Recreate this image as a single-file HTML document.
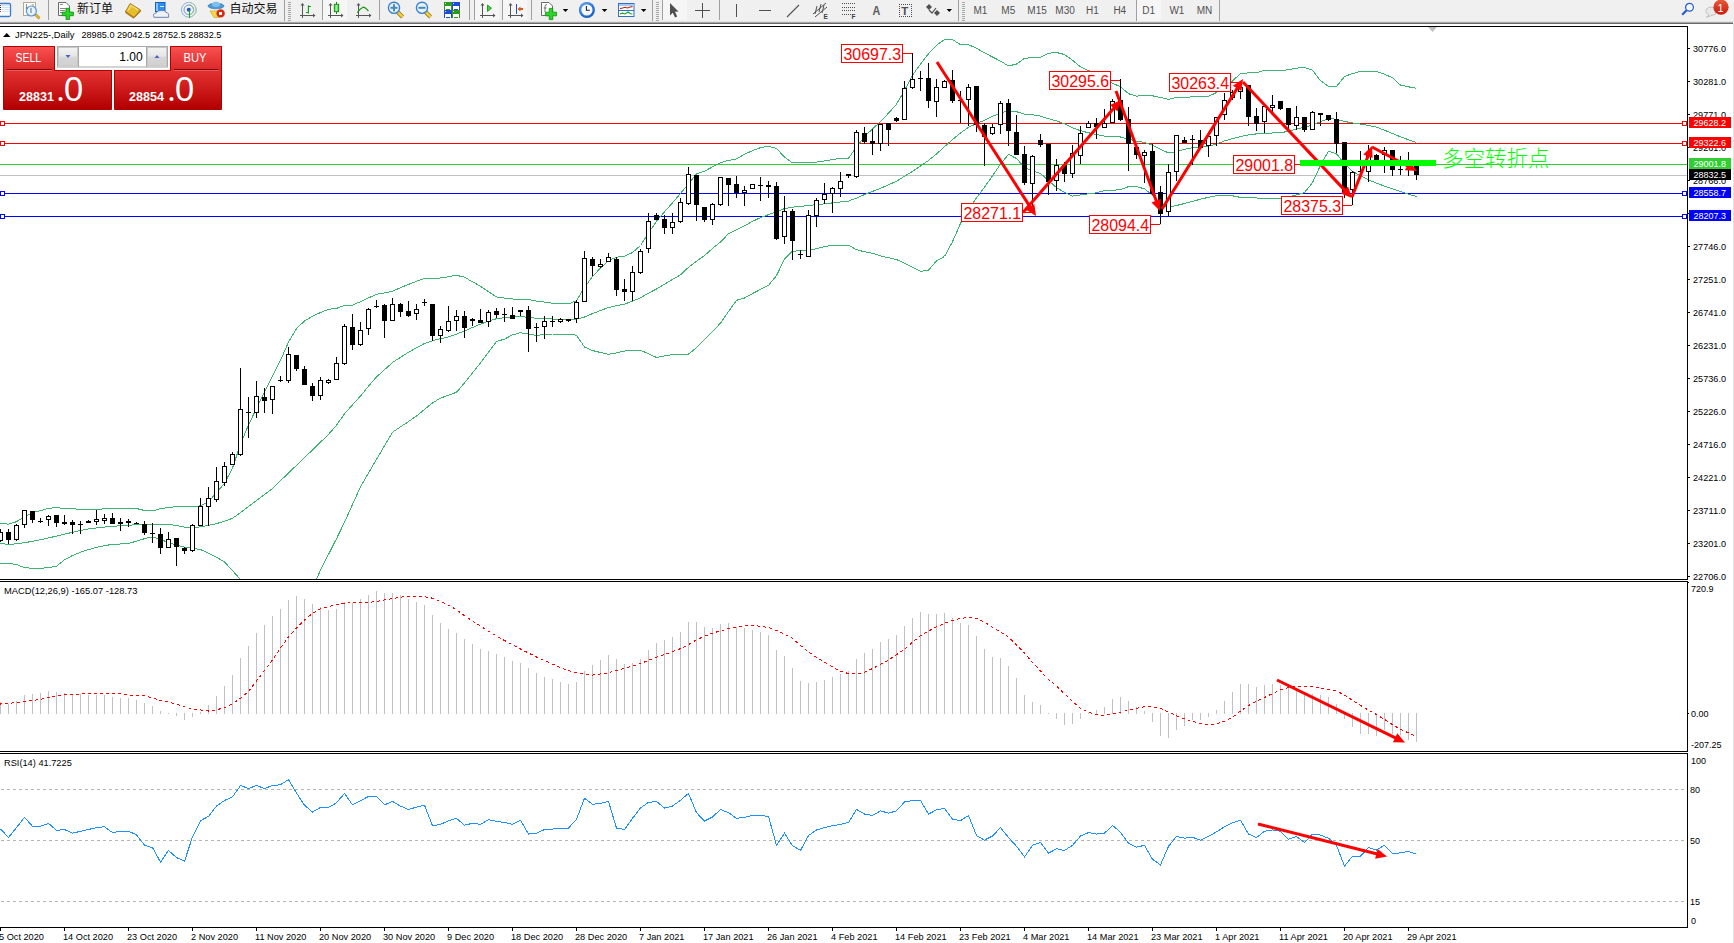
<!DOCTYPE html>
<html><head><meta charset="utf-8"><title>JPN225 Daily</title>
<style>
html,body{margin:0;padding:0;width:1734px;height:943px;overflow:hidden;background:#fff;}
svg{display:block;}
text{font-family:'Liberation Sans', 'Noto Sans CJK SC', sans-serif;}
</style></head><body>
<svg width="1734" height="943" viewBox="0 0 1734 943">
<rect x="0" y="24" width="1734" height="919" fill="#fff"/><rect x="1733" y="23" width="1" height="920" fill="#e2e2e2"/><rect x="0" y="26" width="1688" height="1" fill="#000"/><rect x="0" y="579" width="1688" height="1" fill="#000"/><rect x="1687" y="26" width="1" height="554" fill="#000"/><rect x="0" y="581" width="1688" height="1" fill="#000"/><rect x="0" y="751" width="1688" height="1" fill="#000"/><rect x="1687" y="581" width="1" height="171" fill="#000"/><rect x="0" y="753" width="1688" height="1" fill="#000"/><rect x="0" y="927" width="1688" height="1" fill="#000"/><rect x="1687" y="753" width="1" height="175" fill="#000"/><defs><clipPath id="cMain"><rect x="0" y="27" width="1687" height="552"/></clipPath><clipPath id="cMacd"><rect x="0" y="582" width="1687" height="169"/></clipPath><clipPath id="cRsi"><rect x="0" y="754" width="1687" height="173"/></clipPath></defs><g clip-path="url(#cMain)" shape-rendering="crispEdges"><rect x="0" y="123" width="1687" height="1" fill="#ff0000"/><rect x="1682.5" y="121.5" width="4" height="4" fill="#fff" stroke="#ff0000" stroke-width="1"/><rect x="0.5" y="121.5" width="4" height="4" fill="#fff" stroke="#ff0000" stroke-width="1"/><rect x="0" y="143" width="1687" height="1" fill="#ff0000"/><rect x="1682.5" y="141.5" width="4" height="4" fill="#fff" stroke="#ff0000" stroke-width="1"/><rect x="0.5" y="141.5" width="4" height="4" fill="#fff" stroke="#ff0000" stroke-width="1"/><rect x="0" y="164" width="1687" height="1" fill="#32cd32"/><rect x="0" y="175" width="1687" height="1" fill="#c0c0c0"/><rect x="0" y="193" width="1687" height="1" fill="#0000ff"/><rect x="1682.5" y="191.5" width="4" height="4" fill="#fff" stroke="#0000ff" stroke-width="1"/><rect x="0.5" y="191.5" width="4" height="4" fill="#fff" stroke="#0000ff" stroke-width="1"/><rect x="0" y="216" width="1687" height="1" fill="#0000ff"/><rect x="1682.5" y="214.5" width="4" height="4" fill="#fff" stroke="#0000ff" stroke-width="1"/><rect x="0.5" y="214.5" width="4" height="4" fill="#fff" stroke="#0000ff" stroke-width="1"/><polyline points="-1.0,523.0 0.5,523.0 8.5,524.2 16.5,521.7 24.5,516.6 32.5,512.8 40.5,510.6 48.5,508.4 56.5,507.6 64.5,508.6 72.5,508.6 80.5,509.6 88.5,509.5 96.5,509.4 104.5,508.8 112.5,508.2 120.5,508.3 128.5,508.4 136.5,508.5 144.5,510.5 152.5,511.0 160.5,508.6 168.5,507.5 176.5,506.6 184.5,506.7 192.5,506.9 200.5,505.8 208.5,501.6 216.5,492.8 224.5,483.4 232.5,468.0 240.5,444.1 248.5,425.0 256.5,408.2 264.5,392.4 272.5,376.4 280.5,360.4 288.5,342.1 296.5,328.6 304.5,320.9 312.5,316.2 320.5,312.5 328.5,309.3 336.5,308.4 344.5,305.3 352.5,305.1 360.5,301.7 368.5,297.9 376.5,294.3 384.5,293.0 392.5,291.2 400.5,287.7 408.5,284.4 416.5,281.3 424.5,278.5 432.5,278.5 440.5,278.0 448.5,276.7 456.5,275.3 464.5,277.2 472.5,281.8 480.5,286.3 488.5,291.6 496.5,297.0 504.5,298.1 512.5,299.0 520.5,299.3 528.5,299.5 536.5,301.1 544.5,302.1 552.5,303.2 560.5,303.8 568.5,303.8 576.5,300.8 584.5,287.5 592.5,276.6 600.5,268.0 608.5,260.6 616.5,257.3 624.5,256.1 632.5,252.6 640.5,245.5 648.5,233.0 656.5,221.3 664.5,211.8 672.5,202.8 680.5,193.5 688.5,183.7 696.5,174.0 704.5,171.2 712.5,166.9 720.5,162.7 728.5,160.4 736.5,158.9 744.5,154.2 752.5,150.7 760.5,147.6 768.5,146.2 776.5,148.5 784.5,157.1 792.5,163.0 800.5,162.4 808.5,162.2 816.5,162.1 824.5,161.0 832.5,159.5 840.5,158.3 848.5,158.3 856.5,146.9 864.5,136.6 872.5,128.9 880.5,121.5 888.5,113.2 896.5,104.2 904.5,90.5 912.5,75.2 920.5,64.1 928.5,53.7 936.5,45.2 944.5,39.5 952.5,39.6 960.5,44.7 968.5,44.6 976.5,48.3 984.5,52.8 992.5,57.0 1000.5,61.1 1008.5,65.9 1016.5,64.1 1024.5,58.4 1032.5,57.4 1040.5,57.3 1048.5,53.3 1056.5,52.5 1064.5,54.5 1072.5,60.2 1080.5,66.9 1088.5,70.5 1096.5,74.8 1104.5,79.2 1112.5,83.3 1120.5,86.7 1128.5,93.7 1136.5,96.1 1144.5,95.7 1152.5,95.8 1160.5,97.5 1168.5,99.3 1176.5,97.5 1184.5,97.2 1192.5,96.9 1200.5,96.7 1208.5,96.4 1216.5,92.5 1224.5,86.9 1232.5,80.9 1240.5,73.6 1248.5,72.9 1256.5,72.6 1264.5,70.4 1272.5,71.0 1280.5,70.9 1288.5,69.7 1296.5,68.1 1304.5,67.5 1312.5,70.1 1320.5,80.7 1328.5,86.3 1336.5,86.5 1344.5,76.5 1352.5,73.6 1360.5,71.4 1368.5,71.4 1376.5,71.4 1384.5,74.2 1392.5,77.8 1400.5,85.1 1408.5,86.8 1416.5,88.4" fill="none" stroke="#3cb371" stroke-width="1" /><polyline points="-1.0,543.3 0.5,543.3 8.5,544.6 16.5,543.8 24.5,542.6 32.5,541.4 40.5,539.7 48.5,537.9 56.5,536.1 64.5,534.2 72.5,532.3 80.5,530.5 88.5,529.0 96.5,528.0 104.5,527.1 112.5,526.3 120.5,525.8 128.5,525.3 136.5,524.7 144.5,524.4 152.5,524.4 160.5,524.4 168.5,524.4 176.5,525.4 184.5,527.1 192.5,527.5 200.5,526.9 208.5,525.3 216.5,523.6 224.5,521.2 232.5,518.3 240.5,512.6 248.5,506.6 256.5,500.6 264.5,494.6 272.5,488.4 280.5,480.7 288.5,473.0 296.5,465.3 304.5,457.6 312.5,449.9 320.5,442.2 328.5,434.4 336.5,425.2 344.5,413.9 352.5,404.8 360.5,396.0 368.5,386.2 376.5,376.9 384.5,369.7 392.5,362.5 400.5,357.3 408.5,352.2 416.5,347.8 424.5,343.5 432.5,340.7 440.5,338.7 448.5,337.0 456.5,334.1 464.5,331.1 472.5,327.5 480.5,324.1 488.5,321.1 496.5,318.7 504.5,317.7 512.5,316.9 520.5,316.4 528.5,317.5 536.5,318.3 544.5,318.7 552.5,319.0 560.5,319.2 568.5,319.2 576.5,319.2 584.5,317.0 592.5,313.6 600.5,310.5 608.5,307.5 616.5,305.7 624.5,304.1 632.5,301.2 640.5,297.8 648.5,293.1 656.5,289.0 664.5,284.1 672.5,279.5 680.5,274.8 688.5,267.3 696.5,261.2 704.5,255.5 712.5,248.5 720.5,242.0 728.5,233.7 736.5,229.6 744.5,225.7 752.5,221.4 760.5,217.6 768.5,214.6 776.5,211.6 784.5,208.6 792.5,207.2 800.5,206.4 808.5,205.5 816.5,204.7 824.5,203.8 832.5,202.9 840.5,202.0 848.5,201.1 856.5,198.1 864.5,194.6 872.5,191.4 880.5,188.3 888.5,184.8 896.5,181.2 904.5,176.3 912.5,171.3 920.5,166.0 928.5,160.5 936.5,153.9 944.5,146.7 952.5,139.6 960.5,132.9 968.5,127.4 976.5,123.5 984.5,120.3 992.5,116.4 1000.5,112.9 1008.5,111.0 1016.5,111.7 1024.5,114.2 1032.5,114.7 1040.5,116.1 1048.5,118.7 1056.5,120.9 1064.5,123.9 1072.5,127.9 1080.5,130.7 1088.5,132.8 1096.5,134.6 1104.5,136.2 1112.5,136.2 1120.5,137.0 1128.5,139.1 1136.5,141.3 1144.5,142.4 1152.5,145.2 1160.5,149.4 1168.5,152.9 1176.5,151.5 1184.5,149.4 1192.5,147.6 1200.5,146.9 1208.5,146.1 1216.5,144.2 1224.5,140.9 1232.5,138.7 1240.5,136.7 1248.5,134.8 1256.5,133.9 1264.5,133.3 1272.5,133.0 1280.5,132.8 1288.5,131.2 1296.5,129.2 1304.5,127.2 1312.5,124.9 1320.5,121.8 1328.5,118.4 1336.5,119.3 1344.5,121.4 1352.5,123.0 1360.5,124.1 1368.5,125.4 1376.5,127.2 1384.5,130.2 1392.5,133.5 1400.5,136.8 1408.5,139.7 1416.5,142.5" fill="none" stroke="#3cb371" stroke-width="1" /><polyline points="-1.0,563.3 0.5,563.3 8.5,563.3 16.5,564.6 24.5,567.5 32.5,568.4 40.5,568.4 48.5,567.6 56.5,566.3 64.5,559.8 72.5,555.5 80.5,552.3 88.5,549.6 96.5,547.4 104.5,545.6 112.5,544.4 120.5,544.0 128.5,543.6 136.5,541.1 144.5,538.7 152.5,536.8 160.5,539.6 168.5,542.4 176.5,545.1 184.5,547.1 192.5,548.3 200.5,549.5 208.5,553.1 216.5,557.1 224.5,562.0 232.5,570.5 240.5,579.5 248.5,595.7 256.5,611.9 264.5,620.0 272.5,620.0 280.5,620.0 288.5,620.0 296.5,620.0 304.5,609.4 312.5,588.3 320.5,570.1 328.5,554.4 336.5,538.7 344.5,522.3 352.5,504.5 360.5,486.8 368.5,473.0 376.5,459.4 384.5,445.8 392.5,432.2 400.5,426.9 408.5,421.6 416.5,416.0 424.5,409.4 432.5,402.9 440.5,398.1 448.5,395.2 456.5,392.3 464.5,382.9 472.5,372.9 480.5,362.9 488.5,352.3 496.5,341.5 504.5,339.1 512.5,334.9 520.5,332.7 528.5,334.0 536.5,335.4 544.5,334.5 552.5,334.0 560.5,334.0 568.5,334.1 576.5,335.2 584.5,347.0 592.5,350.5 600.5,352.5 608.5,354.3 616.5,352.9 624.5,351.1 632.5,350.2 640.5,350.2 648.5,353.8 656.5,357.5 664.5,355.9 672.5,354.5 680.5,354.3 688.5,354.1 696.5,347.7 704.5,339.7 712.5,331.5 720.5,323.1 728.5,311.6 736.5,300.3 744.5,298.0 752.5,293.6 760.5,289.4 768.5,285.4 776.5,275.5 784.5,259.2 792.5,251.1 800.5,250.9 808.5,250.6 816.5,248.6 824.5,246.6 832.5,245.1 840.5,245.1 848.5,245.2 856.5,249.7 864.5,251.8 872.5,253.2 880.5,256.0 888.5,257.7 896.5,259.5 904.5,263.3 912.5,267.3 920.5,271.3 928.5,270.2 936.5,260.9 944.5,256.5 952.5,241.8 960.5,223.4 968.5,209.5 976.5,197.8 984.5,187.2 992.5,175.9 1000.5,164.0 1008.5,154.4 1016.5,158.5 1024.5,167.4 1032.5,170.7 1040.5,173.4 1048.5,180.6 1056.5,187.6 1064.5,192.3 1072.5,196.1 1080.5,194.9 1088.5,193.8 1096.5,192.8 1104.5,190.6 1112.5,190.4 1120.5,189.6 1128.5,186.6 1136.5,186.7 1144.5,188.8 1152.5,195.2 1160.5,205.8 1168.5,206.9 1176.5,205.5 1184.5,203.5 1192.5,201.4 1200.5,199.2 1208.5,197.3 1216.5,195.8 1224.5,195.1 1232.5,195.8 1240.5,197.4 1248.5,197.7 1256.5,198.0 1264.5,198.2 1272.5,198.2 1280.5,198.2 1288.5,196.7 1296.5,194.9 1304.5,192.5 1312.5,182.7 1320.5,165.2 1328.5,151.2 1336.5,153.7 1344.5,163.9 1352.5,171.2 1360.5,175.9 1368.5,179.9 1376.5,183.1 1384.5,186.1 1392.5,188.9 1400.5,191.6 1408.5,194.1 1416.5,196.6" fill="none" stroke="#3cb371" stroke-width="1" /><rect x="0" y="529" width="1" height="13" fill="#000"/><rect x="-2" y="532" width="5" height="9" fill="#000"/><rect x="-1" y="533" width="3" height="7" fill="#fff"/><rect x="8" y="529" width="1" height="15" fill="#000"/><rect x="6" y="532" width="5" height="8" fill="#000"/><rect x="16" y="524" width="1" height="17" fill="#000"/><rect x="14" y="525" width="5" height="15" fill="#000"/><rect x="15" y="526" width="3" height="13" fill="#fff"/><rect x="24" y="510" width="1" height="18" fill="#000"/><rect x="22" y="510" width="5" height="15" fill="#000"/><rect x="23" y="511" width="3" height="13" fill="#fff"/><rect x="32" y="511" width="1" height="12" fill="#000"/><rect x="30" y="511" width="5" height="9" fill="#000"/><rect x="40" y="518" width="1" height="5" fill="#000"/><rect x="38" y="521" width="5" height="1" fill="#000"/><rect x="48" y="515" width="1" height="11" fill="#000"/><rect x="46" y="516" width="5" height="4" fill="#000"/><rect x="47" y="517" width="3" height="2" fill="#fff"/><rect x="56" y="515" width="1" height="12" fill="#000"/><rect x="54" y="515" width="5" height="8" fill="#000"/><rect x="64" y="515" width="1" height="10" fill="#000"/><rect x="62" y="522" width="5" height="2" fill="#000"/><rect x="72" y="520" width="1" height="14" fill="#000"/><rect x="70" y="522" width="5" height="3" fill="#000"/><rect x="80" y="521" width="1" height="13" fill="#000"/><rect x="78" y="524" width="5" height="1" fill="#000"/><rect x="88" y="520" width="1" height="3" fill="#000"/><rect x="86" y="521" width="5" height="2" fill="#000"/><rect x="96" y="510" width="1" height="15" fill="#000"/><rect x="94" y="519" width="5" height="3" fill="#000"/><rect x="95" y="520" width="3" height="1" fill="#fff"/><rect x="104" y="514" width="1" height="10" fill="#000"/><rect x="102" y="518" width="5" height="3" fill="#000"/><rect x="103" y="519" width="3" height="1" fill="#fff"/><rect x="112" y="513" width="1" height="11" fill="#000"/><rect x="110" y="518" width="5" height="6" fill="#000"/><rect x="120" y="518" width="1" height="13" fill="#000"/><rect x="118" y="522" width="5" height="2" fill="#000"/><rect x="128" y="519" width="1" height="8" fill="#000"/><rect x="126" y="521" width="5" height="2" fill="#000"/><rect x="136" y="522" width="1" height="2" fill="#000"/><rect x="134" y="523" width="5" height="1" fill="#000"/><rect x="144" y="521" width="1" height="14" fill="#000"/><rect x="142" y="524" width="5" height="9" fill="#000"/><rect x="152" y="523" width="1" height="20" fill="#000"/><rect x="150" y="533" width="5" height="1" fill="#000"/><rect x="160" y="528" width="1" height="26" fill="#000"/><rect x="158" y="534" width="5" height="14" fill="#000"/><rect x="168" y="532" width="1" height="16" fill="#000"/><rect x="166" y="539" width="5" height="9" fill="#000"/><rect x="167" y="540" width="3" height="7" fill="#fff"/><rect x="176" y="538" width="1" height="28" fill="#000"/><rect x="174" y="538" width="5" height="9" fill="#000"/><rect x="184" y="547" width="1" height="7" fill="#000"/><rect x="182" y="548" width="5" height="3" fill="#000"/><rect x="192" y="524" width="1" height="28" fill="#000"/><rect x="190" y="525" width="5" height="26" fill="#000"/><rect x="191" y="526" width="3" height="24" fill="#fff"/><rect x="200" y="498" width="1" height="28" fill="#000"/><rect x="198" y="506" width="5" height="20" fill="#000"/><rect x="199" y="507" width="3" height="18" fill="#fff"/><rect x="208" y="487" width="1" height="39" fill="#000"/><rect x="206" y="498" width="5" height="9" fill="#000"/><rect x="207" y="499" width="3" height="7" fill="#fff"/><rect x="216" y="467" width="1" height="35" fill="#000"/><rect x="214" y="481" width="5" height="19" fill="#000"/><rect x="215" y="482" width="3" height="17" fill="#fff"/><rect x="224" y="462" width="1" height="24" fill="#000"/><rect x="222" y="466" width="5" height="17" fill="#000"/><rect x="223" y="467" width="3" height="15" fill="#fff"/><rect x="232" y="452" width="1" height="13" fill="#000"/><rect x="230" y="454" width="5" height="11" fill="#000"/><rect x="231" y="455" width="3" height="9" fill="#fff"/><rect x="240" y="368" width="1" height="88" fill="#000"/><rect x="238" y="409" width="5" height="46" fill="#000"/><rect x="239" y="410" width="3" height="44" fill="#fff"/><rect x="248" y="397" width="1" height="41" fill="#000"/><rect x="246" y="412" width="5" height="1" fill="#000"/><rect x="256" y="381" width="1" height="37" fill="#000"/><rect x="254" y="396" width="5" height="17" fill="#000"/><rect x="255" y="397" width="3" height="15" fill="#fff"/><rect x="264" y="388" width="1" height="25" fill="#000"/><rect x="262" y="397" width="5" height="4" fill="#000"/><rect x="272" y="386" width="1" height="28" fill="#000"/><rect x="270" y="386" width="5" height="14" fill="#000"/><rect x="271" y="387" width="3" height="12" fill="#fff"/><rect x="280" y="376" width="1" height="6" fill="#000"/><rect x="278" y="380" width="5" height="1" fill="#000"/><rect x="288" y="347" width="1" height="36" fill="#000"/><rect x="286" y="354" width="5" height="27" fill="#000"/><rect x="287" y="355" width="3" height="25" fill="#fff"/><rect x="296" y="355" width="1" height="16" fill="#000"/><rect x="294" y="355" width="5" height="14" fill="#000"/><rect x="304" y="366" width="1" height="19" fill="#000"/><rect x="302" y="369" width="5" height="16" fill="#000"/><rect x="312" y="383" width="1" height="18" fill="#000"/><rect x="310" y="386" width="5" height="10" fill="#000"/><rect x="320" y="377" width="1" height="23" fill="#000"/><rect x="318" y="380" width="5" height="16" fill="#000"/><rect x="319" y="381" width="3" height="14" fill="#fff"/><rect x="328" y="379" width="1" height="5" fill="#000"/><rect x="326" y="380" width="5" height="3" fill="#000"/><rect x="327" y="381" width="3" height="1" fill="#fff"/><rect x="336" y="357" width="1" height="23" fill="#000"/><rect x="334" y="363" width="5" height="17" fill="#000"/><rect x="335" y="364" width="3" height="15" fill="#fff"/><rect x="344" y="324" width="1" height="41" fill="#000"/><rect x="342" y="326" width="5" height="38" fill="#000"/><rect x="343" y="327" width="3" height="36" fill="#fff"/><rect x="352" y="314" width="1" height="36" fill="#000"/><rect x="350" y="327" width="5" height="18" fill="#000"/><rect x="360" y="322" width="1" height="24" fill="#000"/><rect x="358" y="330" width="5" height="15" fill="#000"/><rect x="359" y="331" width="3" height="13" fill="#fff"/><rect x="368" y="308" width="1" height="27" fill="#000"/><rect x="366" y="309" width="5" height="20" fill="#000"/><rect x="367" y="310" width="3" height="18" fill="#fff"/><rect x="376" y="300" width="1" height="8" fill="#000"/><rect x="374" y="306" width="5" height="1" fill="#000"/><rect x="384" y="304" width="1" height="34" fill="#000"/><rect x="382" y="305" width="5" height="16" fill="#000"/><rect x="392" y="298" width="1" height="23" fill="#000"/><rect x="390" y="304" width="5" height="17" fill="#000"/><rect x="391" y="305" width="3" height="15" fill="#fff"/><rect x="400" y="303" width="1" height="14" fill="#000"/><rect x="398" y="304" width="5" height="8" fill="#000"/><rect x="408" y="301" width="1" height="16" fill="#000"/><rect x="406" y="311" width="5" height="5" fill="#000"/><rect x="416" y="304" width="1" height="16" fill="#000"/><rect x="414" y="309" width="5" height="5" fill="#000"/><rect x="415" y="310" width="3" height="3" fill="#fff"/><rect x="424" y="299" width="1" height="7" fill="#000"/><rect x="422" y="302" width="5" height="1" fill="#000"/><rect x="432" y="304" width="1" height="37" fill="#000"/><rect x="430" y="304" width="5" height="32" fill="#000"/><rect x="440" y="326" width="1" height="17" fill="#000"/><rect x="438" y="329" width="5" height="7" fill="#000"/><rect x="439" y="330" width="3" height="5" fill="#fff"/><rect x="448" y="306" width="1" height="26" fill="#000"/><rect x="446" y="321" width="5" height="10" fill="#000"/><rect x="447" y="322" width="3" height="8" fill="#fff"/><rect x="456" y="310" width="1" height="21" fill="#000"/><rect x="454" y="316" width="5" height="5" fill="#000"/><rect x="455" y="317" width="3" height="3" fill="#fff"/><rect x="464" y="311" width="1" height="27" fill="#000"/><rect x="462" y="316" width="5" height="12" fill="#000"/><rect x="472" y="318" width="1" height="8" fill="#000"/><rect x="470" y="319" width="5" height="2" fill="#000"/><rect x="480" y="309" width="1" height="14" fill="#000"/><rect x="478" y="320" width="5" height="3" fill="#000"/><rect x="488" y="310" width="1" height="17" fill="#000"/><rect x="486" y="312" width="5" height="10" fill="#000"/><rect x="487" y="313" width="3" height="8" fill="#fff"/><rect x="496" y="308" width="1" height="10" fill="#000"/><rect x="494" y="311" width="5" height="4" fill="#000"/><rect x="504" y="308" width="1" height="14" fill="#000"/><rect x="502" y="314" width="5" height="1" fill="#000"/><rect x="512" y="307" width="1" height="12" fill="#000"/><rect x="510" y="315" width="5" height="4" fill="#000"/><rect x="520" y="310" width="1" height="6" fill="#000"/><rect x="518" y="310" width="5" height="2" fill="#000"/><rect x="528" y="306" width="1" height="46" fill="#000"/><rect x="526" y="310" width="5" height="19" fill="#000"/><rect x="536" y="323" width="1" height="19" fill="#000"/><rect x="534" y="327" width="5" height="1" fill="#000"/><rect x="544" y="316" width="1" height="23" fill="#000"/><rect x="542" y="321" width="5" height="6" fill="#000"/><rect x="543" y="322" width="3" height="4" fill="#fff"/><rect x="552" y="316" width="1" height="11" fill="#000"/><rect x="550" y="321" width="5" height="1" fill="#000"/><rect x="560" y="318" width="1" height="5" fill="#000"/><rect x="558" y="319" width="5" height="3" fill="#000"/><rect x="559" y="320" width="3" height="1" fill="#fff"/><rect x="568" y="319" width="1" height="3" fill="#000"/><rect x="566" y="319" width="5" height="2" fill="#000"/><rect x="576" y="300" width="1" height="23" fill="#000"/><rect x="574" y="302" width="5" height="17" fill="#000"/><rect x="575" y="303" width="3" height="15" fill="#fff"/><rect x="584" y="251" width="1" height="51" fill="#000"/><rect x="582" y="258" width="5" height="44" fill="#000"/><rect x="583" y="259" width="3" height="42" fill="#fff"/><rect x="592" y="257" width="1" height="19" fill="#000"/><rect x="590" y="259" width="5" height="7" fill="#000"/><rect x="600" y="259" width="1" height="9" fill="#000"/><rect x="598" y="264" width="5" height="3" fill="#000"/><rect x="599" y="265" width="3" height="1" fill="#fff"/><rect x="608" y="253" width="1" height="9" fill="#000"/><rect x="606" y="257" width="5" height="5" fill="#000"/><rect x="607" y="258" width="3" height="3" fill="#fff"/><rect x="616" y="257" width="1" height="39" fill="#000"/><rect x="614" y="259" width="5" height="31" fill="#000"/><rect x="624" y="279" width="1" height="22" fill="#000"/><rect x="622" y="289" width="5" height="3" fill="#000"/><rect x="632" y="266" width="1" height="35" fill="#000"/><rect x="630" y="272" width="5" height="20" fill="#000"/><rect x="631" y="273" width="3" height="18" fill="#fff"/><rect x="640" y="249" width="1" height="25" fill="#000"/><rect x="638" y="251" width="5" height="22" fill="#000"/><rect x="639" y="252" width="3" height="20" fill="#fff"/><rect x="648" y="213" width="1" height="40" fill="#000"/><rect x="646" y="221" width="5" height="28" fill="#000"/><rect x="647" y="222" width="3" height="26" fill="#fff"/><rect x="656" y="213" width="1" height="7" fill="#000"/><rect x="654" y="215" width="5" height="5" fill="#000"/><rect x="664" y="215" width="1" height="19" fill="#000"/><rect x="662" y="219" width="5" height="9" fill="#000"/><rect x="672" y="213" width="1" height="21" fill="#000"/><rect x="670" y="222" width="5" height="6" fill="#000"/><rect x="671" y="223" width="3" height="4" fill="#fff"/><rect x="680" y="198" width="1" height="25" fill="#000"/><rect x="678" y="202" width="5" height="20" fill="#000"/><rect x="679" y="203" width="3" height="18" fill="#fff"/><rect x="688" y="167" width="1" height="38" fill="#000"/><rect x="686" y="174" width="5" height="30" fill="#000"/><rect x="687" y="175" width="3" height="28" fill="#fff"/><rect x="696" y="175" width="1" height="46" fill="#000"/><rect x="694" y="175" width="5" height="30" fill="#000"/><rect x="704" y="207" width="1" height="15" fill="#000"/><rect x="702" y="207" width="5" height="13" fill="#000"/><rect x="712" y="203" width="1" height="22" fill="#000"/><rect x="710" y="204" width="5" height="16" fill="#000"/><rect x="711" y="205" width="3" height="14" fill="#fff"/><rect x="720" y="177" width="1" height="29" fill="#000"/><rect x="718" y="177" width="5" height="28" fill="#000"/><rect x="719" y="178" width="3" height="26" fill="#fff"/><rect x="728" y="178" width="1" height="28" fill="#000"/><rect x="726" y="178" width="5" height="7" fill="#000"/><rect x="736" y="176" width="1" height="22" fill="#000"/><rect x="734" y="184" width="5" height="9" fill="#000"/><rect x="744" y="186" width="1" height="20" fill="#000"/><rect x="742" y="190" width="5" height="3" fill="#000"/><rect x="743" y="191" width="3" height="1" fill="#fff"/><rect x="752" y="184" width="1" height="5" fill="#000"/><rect x="750" y="184" width="5" height="5" fill="#000"/><rect x="751" y="185" width="3" height="3" fill="#fff"/><rect x="760" y="177" width="1" height="24" fill="#000"/><rect x="758" y="185" width="5" height="1" fill="#000"/><rect x="768" y="181" width="1" height="17" fill="#000"/><rect x="766" y="185" width="5" height="2" fill="#000"/><rect x="776" y="182" width="1" height="58" fill="#000"/><rect x="774" y="186" width="5" height="53" fill="#000"/><rect x="784" y="196" width="1" height="48" fill="#000"/><rect x="782" y="211" width="5" height="26" fill="#000"/><rect x="783" y="212" width="3" height="24" fill="#fff"/><rect x="792" y="209" width="1" height="51" fill="#000"/><rect x="790" y="211" width="5" height="30" fill="#000"/><rect x="800" y="250" width="1" height="9" fill="#000"/><rect x="798" y="254" width="5" height="1" fill="#000"/><rect x="808" y="210" width="1" height="47" fill="#000"/><rect x="806" y="215" width="5" height="42" fill="#000"/><rect x="807" y="216" width="3" height="40" fill="#fff"/><rect x="816" y="198" width="1" height="29" fill="#000"/><rect x="814" y="200" width="5" height="16" fill="#000"/><rect x="815" y="201" width="3" height="14" fill="#fff"/><rect x="824" y="183" width="1" height="21" fill="#000"/><rect x="822" y="194" width="5" height="6" fill="#000"/><rect x="823" y="195" width="3" height="4" fill="#fff"/><rect x="832" y="187" width="1" height="26" fill="#000"/><rect x="830" y="188" width="5" height="6" fill="#000"/><rect x="831" y="189" width="3" height="4" fill="#fff"/><rect x="840" y="172" width="1" height="25" fill="#000"/><rect x="838" y="181" width="5" height="8" fill="#000"/><rect x="839" y="182" width="3" height="6" fill="#fff"/><rect x="848" y="174" width="1" height="4" fill="#000"/><rect x="846" y="174" width="5" height="2" fill="#000"/><rect x="856" y="130" width="1" height="48" fill="#000"/><rect x="854" y="132" width="5" height="45" fill="#000"/><rect x="855" y="133" width="3" height="43" fill="#fff"/><rect x="864" y="127" width="1" height="17" fill="#000"/><rect x="862" y="133" width="5" height="9" fill="#000"/><rect x="872" y="129" width="1" height="26" fill="#000"/><rect x="870" y="141" width="5" height="3" fill="#000"/><rect x="880" y="124" width="1" height="27" fill="#000"/><rect x="878" y="124" width="5" height="20" fill="#000"/><rect x="879" y="125" width="3" height="18" fill="#fff"/><rect x="888" y="123" width="1" height="23" fill="#000"/><rect x="886" y="123" width="5" height="7" fill="#000"/><rect x="896" y="117" width="1" height="5" fill="#000"/><rect x="894" y="118" width="5" height="3" fill="#000"/><rect x="904" y="81" width="1" height="39" fill="#000"/><rect x="902" y="88" width="5" height="32" fill="#000"/><rect x="903" y="89" width="3" height="30" fill="#fff"/><rect x="912" y="53" width="1" height="36" fill="#000"/><rect x="910" y="79" width="5" height="9" fill="#000"/><rect x="911" y="80" width="3" height="7" fill="#fff"/><rect x="920" y="71" width="1" height="20" fill="#000"/><rect x="918" y="78" width="5" height="1" fill="#000"/><rect x="928" y="63" width="1" height="45" fill="#000"/><rect x="926" y="78" width="5" height="23" fill="#000"/><rect x="936" y="79" width="1" height="38" fill="#000"/><rect x="934" y="87" width="5" height="15" fill="#000"/><rect x="935" y="88" width="3" height="13" fill="#fff"/><rect x="944" y="80" width="1" height="8" fill="#000"/><rect x="942" y="81" width="5" height="7" fill="#000"/><rect x="943" y="82" width="3" height="5" fill="#fff"/><rect x="952" y="70" width="1" height="33" fill="#000"/><rect x="950" y="80" width="5" height="21" fill="#000"/><rect x="960" y="91" width="1" height="32" fill="#000"/><rect x="958" y="100" width="5" height="1" fill="#000"/><rect x="968" y="84" width="1" height="42" fill="#000"/><rect x="966" y="87" width="5" height="13" fill="#000"/><rect x="967" y="88" width="3" height="11" fill="#fff"/><rect x="976" y="86" width="1" height="46" fill="#000"/><rect x="974" y="86" width="5" height="39" fill="#000"/><rect x="984" y="123" width="1" height="43" fill="#000"/><rect x="982" y="125" width="5" height="12" fill="#000"/><rect x="992" y="124" width="1" height="11" fill="#000"/><rect x="990" y="127" width="5" height="7" fill="#000"/><rect x="991" y="128" width="3" height="5" fill="#fff"/><rect x="1000" y="101" width="1" height="33" fill="#000"/><rect x="998" y="103" width="5" height="22" fill="#000"/><rect x="999" y="104" width="3" height="20" fill="#fff"/><rect x="1008" y="99" width="1" height="47" fill="#000"/><rect x="1006" y="103" width="5" height="28" fill="#000"/><rect x="1016" y="115" width="1" height="40" fill="#000"/><rect x="1014" y="132" width="5" height="23" fill="#000"/><rect x="1024" y="146" width="1" height="39" fill="#000"/><rect x="1022" y="154" width="5" height="29" fill="#000"/><rect x="1032" y="155" width="1" height="57" fill="#000"/><rect x="1030" y="156" width="5" height="28" fill="#000"/><rect x="1031" y="157" width="3" height="26" fill="#fff"/><rect x="1040" y="134" width="1" height="13" fill="#000"/><rect x="1038" y="140" width="5" height="5" fill="#000"/><rect x="1048" y="144" width="1" height="51" fill="#000"/><rect x="1046" y="144" width="5" height="38" fill="#000"/><rect x="1056" y="159" width="1" height="32" fill="#000"/><rect x="1054" y="165" width="5" height="16" fill="#000"/><rect x="1055" y="166" width="3" height="14" fill="#fff"/><rect x="1064" y="162" width="1" height="20" fill="#000"/><rect x="1062" y="165" width="5" height="9" fill="#000"/><rect x="1072" y="145" width="1" height="33" fill="#000"/><rect x="1070" y="153" width="5" height="21" fill="#000"/><rect x="1071" y="154" width="3" height="19" fill="#fff"/><rect x="1080" y="126" width="1" height="38" fill="#000"/><rect x="1078" y="133" width="5" height="23" fill="#000"/><rect x="1079" y="134" width="3" height="21" fill="#fff"/><rect x="1088" y="121" width="1" height="7" fill="#000"/><rect x="1086" y="123" width="5" height="5" fill="#000"/><rect x="1087" y="124" width="3" height="3" fill="#fff"/><rect x="1096" y="118" width="1" height="21" fill="#000"/><rect x="1094" y="123" width="5" height="4" fill="#000"/><rect x="1104" y="109" width="1" height="19" fill="#000"/><rect x="1102" y="123" width="5" height="5" fill="#000"/><rect x="1103" y="124" width="3" height="3" fill="#fff"/><rect x="1112" y="99" width="1" height="24" fill="#000"/><rect x="1110" y="101" width="5" height="22" fill="#000"/><rect x="1111" y="102" width="3" height="20" fill="#fff"/><rect x="1120" y="79" width="1" height="42" fill="#000"/><rect x="1118" y="100" width="5" height="20" fill="#000"/><rect x="1128" y="107" width="1" height="64" fill="#000"/><rect x="1126" y="119" width="5" height="25" fill="#000"/><rect x="1136" y="147" width="1" height="12" fill="#000"/><rect x="1134" y="147" width="5" height="8" fill="#000"/><rect x="1144" y="150" width="1" height="33" fill="#000"/><rect x="1142" y="152" width="5" height="4" fill="#000"/><rect x="1143" y="153" width="3" height="2" fill="#fff"/><rect x="1152" y="144" width="1" height="51" fill="#000"/><rect x="1150" y="151" width="5" height="43" fill="#000"/><rect x="1160" y="186" width="1" height="38" fill="#000"/><rect x="1158" y="192" width="5" height="22" fill="#000"/><rect x="1168" y="164" width="1" height="52" fill="#000"/><rect x="1166" y="172" width="5" height="40" fill="#000"/><rect x="1167" y="173" width="3" height="38" fill="#fff"/><rect x="1176" y="135" width="1" height="46" fill="#000"/><rect x="1174" y="135" width="5" height="37" fill="#000"/><rect x="1175" y="136" width="3" height="35" fill="#fff"/><rect x="1184" y="137" width="1" height="6" fill="#000"/><rect x="1182" y="140" width="5" height="3" fill="#000"/><rect x="1192" y="135" width="1" height="30" fill="#000"/><rect x="1190" y="139" width="5" height="1" fill="#000"/><rect x="1200" y="130" width="1" height="19" fill="#000"/><rect x="1198" y="140" width="5" height="8" fill="#000"/><rect x="1208" y="136" width="1" height="21" fill="#000"/><rect x="1206" y="136" width="5" height="10" fill="#000"/><rect x="1207" y="137" width="3" height="8" fill="#fff"/><rect x="1216" y="117" width="1" height="29" fill="#000"/><rect x="1214" y="117" width="5" height="19" fill="#000"/><rect x="1215" y="118" width="3" height="17" fill="#fff"/><rect x="1224" y="93" width="1" height="27" fill="#000"/><rect x="1222" y="100" width="5" height="15" fill="#000"/><rect x="1223" y="101" width="3" height="13" fill="#fff"/><rect x="1232" y="90" width="1" height="10" fill="#000"/><rect x="1230" y="92" width="5" height="6" fill="#000"/><rect x="1231" y="93" width="3" height="4" fill="#fff"/><rect x="1240" y="81" width="1" height="18" fill="#000"/><rect x="1238" y="87" width="5" height="5" fill="#000"/><rect x="1239" y="88" width="3" height="3" fill="#fff"/><rect x="1248" y="85" width="1" height="41" fill="#000"/><rect x="1246" y="85" width="5" height="32" fill="#000"/><rect x="1256" y="108" width="1" height="23" fill="#000"/><rect x="1254" y="116" width="5" height="8" fill="#000"/><rect x="1264" y="106" width="1" height="27" fill="#000"/><rect x="1262" y="106" width="5" height="16" fill="#000"/><rect x="1263" y="107" width="3" height="14" fill="#fff"/><rect x="1272" y="95" width="1" height="19" fill="#000"/><rect x="1270" y="105" width="5" height="3" fill="#000"/><rect x="1271" y="106" width="3" height="1" fill="#fff"/><rect x="1280" y="101" width="1" height="9" fill="#000"/><rect x="1278" y="101" width="5" height="8" fill="#000"/><rect x="1288" y="108" width="1" height="21" fill="#000"/><rect x="1286" y="108" width="5" height="17" fill="#000"/><rect x="1296" y="106" width="1" height="24" fill="#000"/><rect x="1294" y="117" width="5" height="9" fill="#000"/><rect x="1295" y="118" width="3" height="7" fill="#fff"/><rect x="1304" y="117" width="1" height="15" fill="#000"/><rect x="1302" y="117" width="5" height="13" fill="#000"/><rect x="1312" y="111" width="1" height="19" fill="#000"/><rect x="1310" y="112" width="5" height="18" fill="#000"/><rect x="1311" y="113" width="3" height="16" fill="#fff"/><rect x="1320" y="113" width="1" height="13" fill="#000"/><rect x="1318" y="113" width="5" height="2" fill="#000"/><rect x="1328" y="115" width="1" height="6" fill="#000"/><rect x="1326" y="115" width="5" height="5" fill="#000"/><rect x="1336" y="112" width="1" height="41" fill="#000"/><rect x="1334" y="119" width="5" height="25" fill="#000"/><rect x="1344" y="142" width="1" height="56" fill="#000"/><rect x="1342" y="142" width="5" height="50" fill="#000"/><rect x="1352" y="171" width="1" height="34" fill="#000"/><rect x="1350" y="172" width="5" height="18" fill="#000"/><rect x="1351" y="173" width="3" height="16" fill="#fff"/><rect x="1360" y="151" width="1" height="21" fill="#000"/><rect x="1358" y="171" width="5" height="1" fill="#000"/><rect x="1368" y="145" width="1" height="37" fill="#000"/><rect x="1366" y="155" width="5" height="17" fill="#000"/><rect x="1367" y="156" width="3" height="15" fill="#fff"/><rect x="1376" y="154" width="1" height="6" fill="#000"/><rect x="1374" y="155" width="5" height="5" fill="#000"/><rect x="1384" y="147" width="1" height="26" fill="#000"/><rect x="1382" y="150" width="5" height="5" fill="#000"/><rect x="1383" y="151" width="3" height="3" fill="#fff"/><rect x="1392" y="150" width="1" height="26" fill="#000"/><rect x="1390" y="150" width="5" height="20" fill="#000"/><rect x="1400" y="156" width="1" height="19" fill="#000"/><rect x="1398" y="169" width="5" height="1" fill="#000"/><rect x="1408" y="152" width="1" height="24" fill="#000"/><rect x="1406" y="169" width="5" height="1" fill="#000"/><rect x="1416" y="161" width="1" height="19" fill="#000"/><rect x="1414" y="165" width="5" height="10" fill="#000"/></g><g clip-path="url(#cMain)"><rect x="841.5" y="44.5" width="61" height="18" fill="#fff" stroke="#ff0000" stroke-width="1"/><text x="843.5" y="60" font-size="17" fill="#ff0000" text-anchor="start" textLength="57.5" lengthAdjust="spacingAndGlyphs">30697.3</text><rect x="903" y="53" width="9" height="1" fill="#ff0000"/><rect x="1049.5" y="71.5" width="61" height="18" fill="#fff" stroke="#ff0000" stroke-width="1"/><text x="1051.5" y="87" font-size="17" fill="#ff0000" text-anchor="start" textLength="57.5" lengthAdjust="spacingAndGlyphs">30295.6</text><rect x="1111" y="80" width="9" height="1" fill="#ff0000"/><rect x="1169.5" y="73.5" width="61" height="18" fill="#fff" stroke="#ff0000" stroke-width="1"/><text x="1171.5" y="89" font-size="17" fill="#ff0000" text-anchor="start" textLength="57.5" lengthAdjust="spacingAndGlyphs">30263.4</text><rect x="1231" y="82" width="9" height="1" fill="#ff0000"/><rect x="961.5" y="203.5" width="61" height="18" fill="#fff" stroke="#ff0000" stroke-width="1"/><text x="963.5" y="219" font-size="17" fill="#ff0000" text-anchor="start" textLength="57.5" lengthAdjust="spacingAndGlyphs">28271.1</text><rect x="1023" y="212" width="9" height="1" fill="#ff0000"/><rect x="1089.5" y="215.5" width="61" height="18" fill="#fff" stroke="#ff0000" stroke-width="1"/><text x="1091.5" y="231" font-size="17" fill="#ff0000" text-anchor="start" textLength="57.5" lengthAdjust="spacingAndGlyphs">28094.4</text><rect x="1151" y="224" width="9" height="1" fill="#ff0000"/><rect x="1281.5" y="196.5" width="61" height="18" fill="#fff" stroke="#ff0000" stroke-width="1"/><text x="1283.5" y="212" font-size="17" fill="#ff0000" text-anchor="start" textLength="57.5" lengthAdjust="spacingAndGlyphs">28375.3</text><rect x="1343" y="205" width="9" height="1" fill="#ff0000"/><rect x="1233.5" y="155.5" width="61" height="18" fill="#fff" stroke="#ff0000" stroke-width="1"/><text x="1235.5" y="171" font-size="17" fill="#ff0000" text-anchor="start" textLength="57.5" lengthAdjust="spacingAndGlyphs">29001.8</text><rect x="1295" y="164" width="5" height="1" fill="#ff0000"/><line x1="937" y1="62" x2="1031.1" y2="208.4" stroke="#ff0000" stroke-width="3.0"/><polygon points="1036.0,216.0 1025.8,209.5 1034.3,204.0" fill="#ff0000"/><line x1="1023" y1="212.5" x2="1115.1" y2="106.8" stroke="#ff0000" stroke-width="3.0"/><polygon points="1121.0,100.0 1117.5,111.6 1110.0,105.0" fill="#ff0000"/><line x1="1116" y1="91" x2="1156.9" y2="202.6" stroke="#ff0000" stroke-width="3.0"/><polygon points="1160.0,211.0 1151.5,202.4 1160.9,199.0" fill="#ff0000"/><line x1="1162" y1="209" x2="1238.2" y2="86.6" stroke="#ff0000" stroke-width="3.0"/><polygon points="1243.0,79.0 1241.4,91.0 1232.9,85.7" fill="#ff0000"/><line x1="1243" y1="82" x2="1345.8" y2="191.4" stroke="#ff0000" stroke-width="3.0"/><polygon points="1352.0,198.0 1340.8,193.4 1348.1,186.6" fill="#ff0000"/><line x1="1352" y1="197" x2="1368.7" y2="154.4" stroke="#ff0000" stroke-width="3.0"/><polygon points="1372.0,146.0 1372.6,158.1 1363.3,154.4" fill="#ff0000"/><line x1="1372" y1="147" x2="1409.1" y2="166.8" stroke="#ff0000" stroke-width="3.0"/><polygon points="1417.0,171.0 1404.9,170.2 1409.6,161.4" fill="#ff0000"/><rect x="1300" y="160" width="136" height="6" fill="#00ff00"/><text x="1442" y="166" font-size="21.5" fill="#00ff00" font-weight="300" font-family="'Noto Sans CJK SC', sans-serif">多空转折点</text></g><polygon points="1428,27 1437,27 1432.5,32" fill="#c0c0c0"/><g shape-rendering="crispEdges"><rect x="1688" y="48" width="2" height="1" fill="#000"/><text x="1693" y="52" font-size="9" fill="#000" text-anchor="start" textLength="33" lengthAdjust="spacingAndGlyphs">30776.0</text><rect x="1688" y="81" width="2" height="1" fill="#000"/><text x="1693" y="85" font-size="9" fill="#000" text-anchor="start" textLength="33" lengthAdjust="spacingAndGlyphs">30281.0</text><rect x="1688" y="114" width="2" height="1" fill="#000"/><text x="1693" y="118" font-size="9" fill="#000" text-anchor="start" textLength="33" lengthAdjust="spacingAndGlyphs">29771.0</text><rect x="1688" y="147" width="2" height="1" fill="#000"/><text x="1693" y="151" font-size="9" fill="#000" text-anchor="start" textLength="33" lengthAdjust="spacingAndGlyphs">29261.0</text><rect x="1688" y="180" width="2" height="1" fill="#000"/><text x="1693" y="184" font-size="9" fill="#000" text-anchor="start" textLength="33" lengthAdjust="spacingAndGlyphs">28766.0</text><rect x="1688" y="213" width="2" height="1" fill="#000"/><text x="1693" y="217" font-size="9" fill="#000" text-anchor="start" textLength="33" lengthAdjust="spacingAndGlyphs">28256.0</text><rect x="1688" y="246" width="2" height="1" fill="#000"/><text x="1693" y="250" font-size="9" fill="#000" text-anchor="start" textLength="33" lengthAdjust="spacingAndGlyphs">27746.0</text><rect x="1688" y="279" width="2" height="1" fill="#000"/><text x="1693" y="283" font-size="9" fill="#000" text-anchor="start" textLength="33" lengthAdjust="spacingAndGlyphs">27251.0</text><rect x="1688" y="312" width="2" height="1" fill="#000"/><text x="1693" y="316" font-size="9" fill="#000" text-anchor="start" textLength="33" lengthAdjust="spacingAndGlyphs">26741.0</text><rect x="1688" y="345" width="2" height="1" fill="#000"/><text x="1693" y="349" font-size="9" fill="#000" text-anchor="start" textLength="33" lengthAdjust="spacingAndGlyphs">26231.0</text><rect x="1688" y="378" width="2" height="1" fill="#000"/><text x="1693" y="382" font-size="9" fill="#000" text-anchor="start" textLength="33" lengthAdjust="spacingAndGlyphs">25736.0</text><rect x="1688" y="411" width="2" height="1" fill="#000"/><text x="1693" y="415" font-size="9" fill="#000" text-anchor="start" textLength="33" lengthAdjust="spacingAndGlyphs">25226.0</text><rect x="1688" y="444" width="2" height="1" fill="#000"/><text x="1693" y="448" font-size="9" fill="#000" text-anchor="start" textLength="33" lengthAdjust="spacingAndGlyphs">24716.0</text><rect x="1688" y="477" width="2" height="1" fill="#000"/><text x="1693" y="481" font-size="9" fill="#000" text-anchor="start" textLength="33" lengthAdjust="spacingAndGlyphs">24221.0</text><rect x="1688" y="510" width="2" height="1" fill="#000"/><text x="1693" y="514" font-size="9" fill="#000" text-anchor="start" textLength="33" lengthAdjust="spacingAndGlyphs">23711.0</text><rect x="1688" y="543" width="2" height="1" fill="#000"/><text x="1693" y="547" font-size="9" fill="#000" text-anchor="start" textLength="33" lengthAdjust="spacingAndGlyphs">23201.0</text><rect x="1688" y="576" width="2" height="1" fill="#000"/><text x="1693" y="580" font-size="9" fill="#000" text-anchor="start" textLength="33" lengthAdjust="spacingAndGlyphs">22706.0</text></g><rect x="1689" y="117" width="42" height="11" fill="#ff0000"/><text x="1693.5" y="126" font-size="9.5" fill="#fff" text-anchor="start" textLength="32.5" lengthAdjust="spacingAndGlyphs">29628.2</text><rect x="1689" y="137" width="42" height="11" fill="#ff0000"/><text x="1693.5" y="146" font-size="9.5" fill="#fff" text-anchor="start" textLength="32.5" lengthAdjust="spacingAndGlyphs">29322.6</text><rect x="1689" y="158" width="42" height="11" fill="#32cd32"/><text x="1693.5" y="167" font-size="9.5" fill="#fff" text-anchor="start" textLength="32.5" lengthAdjust="spacingAndGlyphs">29001.8</text><rect x="1689" y="169" width="42" height="11" fill="#000000"/><text x="1693.5" y="178" font-size="9.5" fill="#fff" text-anchor="start" textLength="32.5" lengthAdjust="spacingAndGlyphs">28832.5</text><rect x="1689" y="187" width="42" height="11" fill="#0000ff"/><text x="1693.5" y="196" font-size="9.5" fill="#fff" text-anchor="start" textLength="32.5" lengthAdjust="spacingAndGlyphs">28558.7</text><rect x="1689" y="210" width="42" height="11" fill="#0000ff"/><text x="1693.5" y="219" font-size="9.5" fill="#fff" text-anchor="start" textLength="32.5" lengthAdjust="spacingAndGlyphs">28207.3</text><g clip-path="url(#cMacd)" shape-rendering="crispEdges"><rect x="0" y="702" width="1" height="12" fill="#c0c0c0"/><rect x="8" y="704" width="1" height="10" fill="#c0c0c0"/><rect x="16" y="701" width="1" height="13" fill="#c0c0c0"/><rect x="24" y="695" width="1" height="19" fill="#c0c0c0"/><rect x="32" y="694" width="1" height="20" fill="#c0c0c0"/><rect x="40" y="693" width="1" height="21" fill="#c0c0c0"/><rect x="48" y="691" width="1" height="23" fill="#c0c0c0"/><rect x="56" y="692" width="1" height="22" fill="#c0c0c0"/><rect x="64" y="693" width="1" height="21" fill="#c0c0c0"/><rect x="72" y="694" width="1" height="20" fill="#c0c0c0"/><rect x="80" y="694" width="1" height="20" fill="#c0c0c0"/><rect x="88" y="695" width="1" height="19" fill="#c0c0c0"/><rect x="96" y="695" width="1" height="19" fill="#c0c0c0"/><rect x="104" y="695" width="1" height="19" fill="#c0c0c0"/><rect x="112" y="697" width="1" height="17" fill="#c0c0c0"/><rect x="120" y="698" width="1" height="16" fill="#c0c0c0"/><rect x="128" y="698" width="1" height="16" fill="#c0c0c0"/><rect x="136" y="700" width="1" height="14" fill="#c0c0c0"/><rect x="144" y="703" width="1" height="11" fill="#c0c0c0"/><rect x="152" y="706" width="1" height="8" fill="#c0c0c0"/><rect x="160" y="711" width="1" height="3" fill="#c0c0c0"/><rect x="168" y="713" width="1" height="1" fill="#c0c0c0"/><rect x="176" y="713" width="1" height="3" fill="#c0c0c0"/><rect x="184" y="713" width="1" height="7" fill="#c0c0c0"/><rect x="192" y="713" width="1" height="4" fill="#c0c0c0"/><rect x="200" y="712" width="1" height="2" fill="#c0c0c0"/><rect x="208" y="705" width="1" height="9" fill="#c0c0c0"/><rect x="216" y="696" width="1" height="18" fill="#c0c0c0"/><rect x="224" y="686" width="1" height="28" fill="#c0c0c0"/><rect x="232" y="675" width="1" height="39" fill="#c0c0c0"/><rect x="240" y="658" width="1" height="56" fill="#c0c0c0"/><rect x="248" y="646" width="1" height="68" fill="#c0c0c0"/><rect x="256" y="633" width="1" height="81" fill="#c0c0c0"/><rect x="264" y="625" width="1" height="89" fill="#c0c0c0"/><rect x="272" y="616" width="1" height="98" fill="#c0c0c0"/><rect x="280" y="609" width="1" height="105" fill="#c0c0c0"/><rect x="288" y="600" width="1" height="114" fill="#c0c0c0"/><rect x="296" y="596" width="1" height="118" fill="#c0c0c0"/><rect x="304" y="599" width="1" height="115" fill="#c0c0c0"/><rect x="312" y="604" width="1" height="110" fill="#c0c0c0"/><rect x="320" y="607" width="1" height="107" fill="#c0c0c0"/><rect x="328" y="610" width="1" height="104" fill="#c0c0c0"/><rect x="336" y="609" width="1" height="105" fill="#c0c0c0"/><rect x="344" y="602" width="1" height="112" fill="#c0c0c0"/><rect x="352" y="603" width="1" height="111" fill="#c0c0c0"/><rect x="360" y="599" width="1" height="115" fill="#c0c0c0"/><rect x="368" y="595" width="1" height="119" fill="#c0c0c0"/><rect x="376" y="591" width="1" height="123" fill="#c0c0c0"/><rect x="384" y="593" width="1" height="121" fill="#c0c0c0"/><rect x="392" y="593" width="1" height="121" fill="#c0c0c0"/><rect x="400" y="595" width="1" height="119" fill="#c0c0c0"/><rect x="408" y="599" width="1" height="115" fill="#c0c0c0"/><rect x="416" y="602" width="1" height="112" fill="#c0c0c0"/><rect x="424" y="605" width="1" height="109" fill="#c0c0c0"/><rect x="432" y="615" width="1" height="99" fill="#c0c0c0"/><rect x="440" y="623" width="1" height="91" fill="#c0c0c0"/><rect x="448" y="629" width="1" height="85" fill="#c0c0c0"/><rect x="456" y="633" width="1" height="81" fill="#c0c0c0"/><rect x="464" y="639" width="1" height="75" fill="#c0c0c0"/><rect x="472" y="644" width="1" height="70" fill="#c0c0c0"/><rect x="480" y="649" width="1" height="65" fill="#c0c0c0"/><rect x="488" y="651" width="1" height="63" fill="#c0c0c0"/><rect x="496" y="654" width="1" height="60" fill="#c0c0c0"/><rect x="504" y="657" width="1" height="57" fill="#c0c0c0"/><rect x="512" y="661" width="1" height="53" fill="#c0c0c0"/><rect x="520" y="663" width="1" height="51" fill="#c0c0c0"/><rect x="528" y="668" width="1" height="46" fill="#c0c0c0"/><rect x="536" y="673" width="1" height="41" fill="#c0c0c0"/><rect x="544" y="677" width="1" height="37" fill="#c0c0c0"/><rect x="552" y="679" width="1" height="35" fill="#c0c0c0"/><rect x="560" y="682" width="1" height="32" fill="#c0c0c0"/><rect x="568" y="684" width="1" height="30" fill="#c0c0c0"/><rect x="576" y="682" width="1" height="32" fill="#c0c0c0"/><rect x="584" y="671" width="1" height="43" fill="#c0c0c0"/><rect x="592" y="665" width="1" height="49" fill="#c0c0c0"/><rect x="600" y="660" width="1" height="54" fill="#c0c0c0"/><rect x="608" y="655" width="1" height="59" fill="#c0c0c0"/><rect x="616" y="659" width="1" height="55" fill="#c0c0c0"/><rect x="624" y="664" width="1" height="50" fill="#c0c0c0"/><rect x="632" y="663" width="1" height="51" fill="#c0c0c0"/><rect x="640" y="659" width="1" height="55" fill="#c0c0c0"/><rect x="648" y="650" width="1" height="64" fill="#c0c0c0"/><rect x="656" y="643" width="1" height="71" fill="#c0c0c0"/><rect x="664" y="640" width="1" height="74" fill="#c0c0c0"/><rect x="672" y="637" width="1" height="77" fill="#c0c0c0"/><rect x="680" y="632" width="1" height="82" fill="#c0c0c0"/><rect x="688" y="622" width="1" height="92" fill="#c0c0c0"/><rect x="696" y="622" width="1" height="92" fill="#c0c0c0"/><rect x="704" y="627" width="1" height="87" fill="#c0c0c0"/><rect x="712" y="628" width="1" height="86" fill="#c0c0c0"/><rect x="720" y="624" width="1" height="90" fill="#c0c0c0"/><rect x="728" y="623" width="1" height="91" fill="#c0c0c0"/><rect x="736" y="627" width="1" height="87" fill="#c0c0c0"/><rect x="744" y="628" width="1" height="86" fill="#c0c0c0"/><rect x="752" y="630" width="1" height="84" fill="#c0c0c0"/><rect x="760" y="632" width="1" height="82" fill="#c0c0c0"/><rect x="768" y="635" width="1" height="79" fill="#c0c0c0"/><rect x="776" y="650" width="1" height="64" fill="#c0c0c0"/><rect x="784" y="656" width="1" height="58" fill="#c0c0c0"/><rect x="792" y="668" width="1" height="46" fill="#c0c0c0"/><rect x="800" y="681" width="1" height="33" fill="#c0c0c0"/><rect x="808" y="683" width="1" height="31" fill="#c0c0c0"/><rect x="816" y="682" width="1" height="32" fill="#c0c0c0"/><rect x="824" y="680" width="1" height="34" fill="#c0c0c0"/><rect x="832" y="677" width="1" height="37" fill="#c0c0c0"/><rect x="840" y="674" width="1" height="40" fill="#c0c0c0"/><rect x="848" y="671" width="1" height="43" fill="#c0c0c0"/><rect x="856" y="659" width="1" height="55" fill="#c0c0c0"/><rect x="864" y="653" width="1" height="61" fill="#c0c0c0"/><rect x="872" y="649" width="1" height="65" fill="#c0c0c0"/><rect x="880" y="642" width="1" height="72" fill="#c0c0c0"/><rect x="888" y="639" width="1" height="75" fill="#c0c0c0"/><rect x="896" y="635" width="1" height="79" fill="#c0c0c0"/><rect x="904" y="626" width="1" height="88" fill="#c0c0c0"/><rect x="912" y="618" width="1" height="96" fill="#c0c0c0"/><rect x="920" y="612" width="1" height="102" fill="#c0c0c0"/><rect x="928" y="614" width="1" height="100" fill="#c0c0c0"/><rect x="936" y="614" width="1" height="100" fill="#c0c0c0"/><rect x="944" y="613" width="1" height="101" fill="#c0c0c0"/><rect x="952" y="618" width="1" height="96" fill="#c0c0c0"/><rect x="960" y="623" width="1" height="91" fill="#c0c0c0"/><rect x="968" y="625" width="1" height="89" fill="#c0c0c0"/><rect x="976" y="636" width="1" height="78" fill="#c0c0c0"/><rect x="984" y="649" width="1" height="65" fill="#c0c0c0"/><rect x="992" y="657" width="1" height="57" fill="#c0c0c0"/><rect x="1000" y="658" width="1" height="56" fill="#c0c0c0"/><rect x="1008" y="666" width="1" height="48" fill="#c0c0c0"/><rect x="1016" y="678" width="1" height="36" fill="#c0c0c0"/><rect x="1024" y="695" width="1" height="19" fill="#c0c0c0"/><rect x="1032" y="702" width="1" height="12" fill="#c0c0c0"/><rect x="1040" y="705" width="1" height="9" fill="#c0c0c0"/><rect x="1048" y="713" width="1" height="1" fill="#c0c0c0"/><rect x="1056" y="713" width="1" height="6" fill="#c0c0c0"/><rect x="1064" y="713" width="1" height="12" fill="#c0c0c0"/><rect x="1072" y="713" width="1" height="11" fill="#c0c0c0"/><rect x="1080" y="713" width="1" height="6" fill="#c0c0c0"/><rect x="1088" y="713" width="1" height="1" fill="#c0c0c0"/><rect x="1096" y="710" width="1" height="4" fill="#c0c0c0"/><rect x="1104" y="707" width="1" height="7" fill="#c0c0c0"/><rect x="1112" y="699" width="1" height="15" fill="#c0c0c0"/><rect x="1120" y="697" width="1" height="17" fill="#c0c0c0"/><rect x="1128" y="701" width="1" height="13" fill="#c0c0c0"/><rect x="1136" y="707" width="1" height="7" fill="#c0c0c0"/><rect x="1144" y="711" width="1" height="3" fill="#c0c0c0"/><rect x="1152" y="713" width="1" height="9" fill="#c0c0c0"/><rect x="1160" y="713" width="1" height="23" fill="#c0c0c0"/><rect x="1168" y="713" width="1" height="25" fill="#c0c0c0"/><rect x="1176" y="713" width="1" height="17" fill="#c0c0c0"/><rect x="1184" y="713" width="1" height="13" fill="#c0c0c0"/><rect x="1192" y="713" width="1" height="7" fill="#c0c0c0"/><rect x="1200" y="713" width="1" height="7" fill="#c0c0c0"/><rect x="1208" y="713" width="1" height="4" fill="#c0c0c0"/><rect x="1216" y="710" width="1" height="4" fill="#c0c0c0"/><rect x="1224" y="701" width="1" height="13" fill="#c0c0c0"/><rect x="1232" y="692" width="1" height="22" fill="#c0c0c0"/><rect x="1240" y="684" width="1" height="30" fill="#c0c0c0"/><rect x="1248" y="684" width="1" height="30" fill="#c0c0c0"/><rect x="1256" y="687" width="1" height="27" fill="#c0c0c0"/><rect x="1264" y="685" width="1" height="29" fill="#c0c0c0"/><rect x="1272" y="684" width="1" height="30" fill="#c0c0c0"/><rect x="1280" y="685" width="1" height="29" fill="#c0c0c0"/><rect x="1288" y="688" width="1" height="26" fill="#c0c0c0"/><rect x="1296" y="690" width="1" height="24" fill="#c0c0c0"/><rect x="1304" y="692" width="1" height="22" fill="#c0c0c0"/><rect x="1312" y="694" width="1" height="20" fill="#c0c0c0"/><rect x="1320" y="695" width="1" height="19" fill="#c0c0c0"/><rect x="1328" y="697" width="1" height="17" fill="#c0c0c0"/><rect x="1336" y="704" width="1" height="10" fill="#c0c0c0"/><rect x="1344" y="713" width="1" height="6" fill="#c0c0c0"/><rect x="1352" y="713" width="1" height="14" fill="#c0c0c0"/><rect x="1360" y="713" width="1" height="21" fill="#c0c0c0"/><rect x="1368" y="713" width="1" height="21" fill="#c0c0c0"/><rect x="1376" y="713" width="1" height="23" fill="#c0c0c0"/><rect x="1384" y="713" width="1" height="17" fill="#c0c0c0"/><rect x="1392" y="713" width="1" height="21" fill="#c0c0c0"/><rect x="1400" y="713" width="1" height="22" fill="#c0c0c0"/><rect x="1408" y="713" width="1" height="27" fill="#c0c0c0"/><rect x="1416" y="713" width="1" height="29" fill="#c0c0c0"/><polyline points="-1.0,704.0 0.5,704.0 8.5,703.3 16.5,702.6 24.5,701.6 32.5,700.5 40.5,699.4 48.5,697.7 56.5,695.7 64.5,695.0 72.5,694.4 80.5,694.0 88.5,693.9 96.5,693.8 104.5,693.7 112.5,693.6 120.5,694.0 128.5,694.9 136.5,695.5 144.5,695.7 152.5,697.9 160.5,700.3 168.5,702.2 176.5,704.3 184.5,706.8 192.5,708.9 200.5,710.0 208.5,711.0 216.5,709.7 224.5,707.9 232.5,703.9 240.5,698.2 248.5,691.4 256.5,681.0 264.5,670.5 272.5,660.0 280.5,648.0 288.5,636.8 296.5,627.9 304.5,620.1 312.5,613.3 320.5,608.9 328.5,606.5 336.5,604.9 344.5,603.4 352.5,602.4 360.5,602.4 368.5,602.4 376.5,601.4 384.5,599.9 392.5,598.6 400.5,597.2 408.5,596.4 416.5,596.6 424.5,596.7 432.5,598.2 440.5,601.3 448.5,605.2 456.5,609.7 464.5,615.7 472.5,620.9 480.5,626.1 488.5,631.2 496.5,636.0 504.5,640.5 512.5,644.8 520.5,649.0 528.5,653.0 536.5,657.0 544.5,660.6 552.5,664.1 560.5,667.7 568.5,670.7 576.5,672.9 584.5,674.3 592.5,675.1 600.5,674.0 608.5,672.8 616.5,670.4 624.5,668.2 632.5,665.9 640.5,663.6 648.5,660.4 656.5,657.3 664.5,654.4 672.5,651.7 680.5,648.6 688.5,644.6 696.5,639.9 704.5,636.2 712.5,633.1 720.5,630.9 728.5,628.7 736.5,627.0 744.5,625.8 752.5,625.3 760.5,626.3 768.5,627.5 776.5,630.5 784.5,634.2 792.5,638.4 800.5,645.5 808.5,651.8 816.5,657.3 824.5,662.2 832.5,666.9 840.5,671.3 848.5,673.6 856.5,674.1 864.5,672.1 872.5,668.6 880.5,664.3 888.5,660.0 896.5,654.7 904.5,649.2 912.5,642.3 920.5,635.7 928.5,631.1 936.5,626.9 944.5,623.4 952.5,620.5 960.5,618.4 968.5,617.5 976.5,618.6 984.5,622.1 992.5,627.1 1000.5,632.1 1008.5,637.1 1016.5,644.8 1024.5,653.2 1032.5,662.3 1040.5,671.1 1048.5,679.4 1056.5,686.2 1064.5,693.7 1072.5,701.7 1080.5,708.2 1088.5,712.1 1096.5,714.7 1104.5,715.2 1112.5,713.9 1120.5,712.1 1128.5,710.1 1136.5,708.4 1144.5,706.8 1152.5,706.9 1160.5,708.5 1168.5,712.1 1176.5,715.7 1184.5,719.0 1192.5,721.5 1200.5,723.4 1208.5,724.9 1216.5,723.8 1224.5,721.3 1232.5,717.3 1240.5,711.0 1248.5,705.5 1256.5,701.2 1264.5,697.5 1272.5,693.6 1280.5,689.9 1288.5,687.6 1296.5,686.5 1304.5,686.3 1312.5,687.0 1320.5,688.0 1328.5,689.2 1336.5,690.7 1344.5,695.2 1352.5,700.3 1360.5,705.5 1368.5,710.1 1376.5,714.6 1384.5,719.3 1392.5,724.7 1400.5,729.4 1408.5,732.9 1416.5,736.4" fill="none" stroke="#ff0000" stroke-width="1" stroke-dasharray="3 3"/></g><rect x="1688" y="582" width="1" height="1" fill="#000"/><text x="1691" y="592" font-size="9" fill="#000" text-anchor="start" >720.9</text><rect x="1688" y="713" width="1" height="1" fill="#000"/><text x="1691" y="717" font-size="9" fill="#000" text-anchor="start" >0.00</text><text x="1691" y="748" font-size="9" fill="#000" text-anchor="start" >-207.25</text><text x="4" y="593.6" font-size="9.3" fill="#000" text-anchor="start" textLength="133.5" lengthAdjust="spacingAndGlyphs">MACD(12,26,9) -165.07 -128.73</text><g clip-path="url(#cRsi)" shape-rendering="crispEdges"><line x1="1" y1="789.5" x2="1686" y2="789.5" stroke="#b4b4b4" stroke-width="1" stroke-dasharray="3 3"/><line x1="1" y1="840.5" x2="1686" y2="840.5" stroke="#b4b4b4" stroke-width="1" stroke-dasharray="3 3"/><line x1="1" y1="901.5" x2="1686" y2="901.5" stroke="#b4b4b4" stroke-width="1" stroke-dasharray="3 3"/><polyline points="0.5,828.9 8.5,837.5 16.5,827.6 24.5,817.3 32.5,826.3 40.5,826.3 48.5,823.3 56.5,830.4 64.5,829.5 72.5,833.2 80.5,831.3 88.5,829.5 96.5,827.6 104.5,826.7 112.5,832.6 120.5,831.3 128.5,831.3 136.5,834.7 144.5,845.3 152.5,847.6 160.5,862.1 168.5,850.5 176.5,857.5 184.5,861.2 192.5,836.9 200.5,820.7 208.5,816.4 216.5,806.1 224.5,800.5 232.5,796.8 240.5,785.6 248.5,788.4 256.5,785.6 264.5,788.4 272.5,785.6 280.5,784.7 288.5,779.6 296.5,793.0 304.5,805.2 312.5,812.1 320.5,807.4 328.5,807.4 336.5,802.8 344.5,793.4 352.5,804.8 360.5,800.9 368.5,796.4 376.5,796.4 384.5,804.8 392.5,801.5 400.5,806.1 408.5,809.5 416.5,807.1 424.5,805.2 432.5,825.7 440.5,824.4 448.5,820.7 456.5,818.3 464.5,825.2 472.5,823.3 480.5,824.4 488.5,819.6 496.5,821.4 504.5,822.5 512.5,824.4 520.5,820.1 528.5,834.1 536.5,833.2 544.5,829.5 552.5,829.1 560.5,828.1 568.5,828.1 576.5,819.2 584.5,798.3 592.5,804.3 600.5,803.3 608.5,801.5 616.5,828.1 624.5,829.5 632.5,818.3 640.5,808.0 648.5,802.4 656.5,801.5 664.5,808.0 672.5,806.1 680.5,800.2 688.5,793.4 696.5,812.7 704.5,821.1 712.5,817.0 720.5,809.5 728.5,812.7 736.5,818.3 744.5,817.3 752.5,815.5 760.5,815.5 768.5,816.4 776.5,845.3 784.5,833.2 792.5,845.7 800.5,850.4 808.5,835.6 816.5,830.0 824.5,827.6 832.5,825.7 840.5,824.4 848.5,822.5 856.5,809.5 864.5,814.0 872.5,815.5 880.5,810.8 888.5,813.2 896.5,810.8 904.5,802.0 912.5,800.5 920.5,800.5 928.5,814.0 936.5,809.9 944.5,808.4 952.5,819.2 960.5,820.7 968.5,815.5 976.5,835.6 984.5,840.1 992.5,836.0 1000.5,827.6 1008.5,837.5 1016.5,846.3 1024.5,856.9 1032.5,845.3 1040.5,842.5 1048.5,853.2 1056.5,848.7 1064.5,850.5 1072.5,845.3 1080.5,836.0 1088.5,832.6 1096.5,834.1 1104.5,833.2 1112.5,825.3 1120.5,832.3 1128.5,843.1 1136.5,847.2 1144.5,845.3 1152.5,859.3 1160.5,864.9 1168.5,846.3 1176.5,836.4 1184.5,838.2 1192.5,837.3 1200.5,840.1 1208.5,836.4 1216.5,831.9 1224.5,826.7 1232.5,822.9 1240.5,820.1 1248.5,834.1 1256.5,837.5 1264.5,831.3 1272.5,830.0 1280.5,831.3 1288.5,839.3 1296.5,836.4 1304.5,842.5 1312.5,834.1 1320.5,835.1 1328.5,838.2 1336.5,845.3 1344.5,866.2 1352.5,856.1 1360.5,856.1 1368.5,847.6 1376.5,850.0 1384.5,845.3 1392.5,853.7 1400.5,852.8 1408.5,851.3 1416.5,854.3" fill="none" stroke="#1e90ff" stroke-width="1" /></g><text x="1691" y="764" font-size="9" fill="#000" text-anchor="start" >100</text><text x="1690" y="793" font-size="9" fill="#000" text-anchor="start" >80</text><text x="1690" y="844" font-size="9" fill="#000" text-anchor="start" >50</text><text x="1690" y="905" font-size="9" fill="#000" text-anchor="start" >15</text><text x="1691" y="924" font-size="9" fill="#000" text-anchor="start" >0</text><text x="4" y="766" font-size="9.3" fill="#000" text-anchor="start" textLength="67.8" lengthAdjust="spacingAndGlyphs">RSI(14) 41.7225</text><line x1="1277" y1="680" x2="1396.9" y2="738.6" stroke="#ff0000" stroke-width="3.0"/><polygon points="1405.0,742.5 1392.9,742.2 1397.3,733.2" fill="#ff0000"/><line x1="1258" y1="824" x2="1378.3" y2="854.3" stroke="#ff0000" stroke-width="3.0"/><polygon points="1387.0,856.5 1375.1,858.7 1377.6,849.0" fill="#ff0000"/><rect x="0" y="928" width="1" height="3" fill="#000"/><text x="-1" y="939.5" font-size="9.2" fill="#000" text-anchor="start" >5 Oct 2020</text><rect x="64" y="928" width="1" height="3" fill="#000"/><text x="63" y="939.5" font-size="9.2" fill="#000" text-anchor="start" >14 Oct 2020</text><rect x="128" y="928" width="1" height="3" fill="#000"/><text x="127" y="939.5" font-size="9.2" fill="#000" text-anchor="start" >23 Oct 2020</text><rect x="192" y="928" width="1" height="3" fill="#000"/><text x="191" y="939.5" font-size="9.2" fill="#000" text-anchor="start" >2 Nov 2020</text><rect x="256" y="928" width="1" height="3" fill="#000"/><text x="255" y="939.5" font-size="9.2" fill="#000" text-anchor="start" >11 Nov 2020</text><rect x="320" y="928" width="1" height="3" fill="#000"/><text x="319" y="939.5" font-size="9.2" fill="#000" text-anchor="start" >20 Nov 2020</text><rect x="384" y="928" width="1" height="3" fill="#000"/><text x="383" y="939.5" font-size="9.2" fill="#000" text-anchor="start" >30 Nov 2020</text><rect x="448" y="928" width="1" height="3" fill="#000"/><text x="447" y="939.5" font-size="9.2" fill="#000" text-anchor="start" >9 Dec 2020</text><rect x="512" y="928" width="1" height="3" fill="#000"/><text x="511" y="939.5" font-size="9.2" fill="#000" text-anchor="start" >18 Dec 2020</text><rect x="576" y="928" width="1" height="3" fill="#000"/><text x="575" y="939.5" font-size="9.2" fill="#000" text-anchor="start" >28 Dec 2020</text><rect x="640" y="928" width="1" height="3" fill="#000"/><text x="639" y="939.5" font-size="9.2" fill="#000" text-anchor="start" >7 Jan 2021</text><rect x="704" y="928" width="1" height="3" fill="#000"/><text x="703" y="939.5" font-size="9.2" fill="#000" text-anchor="start" >17 Jan 2021</text><rect x="768" y="928" width="1" height="3" fill="#000"/><text x="767" y="939.5" font-size="9.2" fill="#000" text-anchor="start" >26 Jan 2021</text><rect x="832" y="928" width="1" height="3" fill="#000"/><text x="831" y="939.5" font-size="9.2" fill="#000" text-anchor="start" >4 Feb 2021</text><rect x="896" y="928" width="1" height="3" fill="#000"/><text x="895" y="939.5" font-size="9.2" fill="#000" text-anchor="start" >14 Feb 2021</text><rect x="960" y="928" width="1" height="3" fill="#000"/><text x="959" y="939.5" font-size="9.2" fill="#000" text-anchor="start" >23 Feb 2021</text><rect x="1024" y="928" width="1" height="3" fill="#000"/><text x="1023" y="939.5" font-size="9.2" fill="#000" text-anchor="start" >4 Mar 2021</text><rect x="1088" y="928" width="1" height="3" fill="#000"/><text x="1087" y="939.5" font-size="9.2" fill="#000" text-anchor="start" >14 Mar 2021</text><rect x="1152" y="928" width="1" height="3" fill="#000"/><text x="1151" y="939.5" font-size="9.2" fill="#000" text-anchor="start" >23 Mar 2021</text><rect x="1216" y="928" width="1" height="3" fill="#000"/><text x="1215" y="939.5" font-size="9.2" fill="#000" text-anchor="start" >1 Apr 2021</text><rect x="1280" y="928" width="1" height="3" fill="#000"/><text x="1279" y="939.5" font-size="9.2" fill="#000" text-anchor="start" >11 Apr 2021</text><rect x="1344" y="928" width="1" height="3" fill="#000"/><text x="1343" y="939.5" font-size="9.2" fill="#000" text-anchor="start" >20 Apr 2021</text><rect x="1408" y="928" width="1" height="3" fill="#000"/><text x="1407" y="939.5" font-size="9.2" fill="#000" text-anchor="start" >29 Apr 2021</text><polygon points="3,37 10.5,37 6.75,33" fill="#000"/><text x="15" y="37.6" font-size="9.5" fill="#000" text-anchor="start" textLength="59.5" lengthAdjust="spacingAndGlyphs">JPN225-,Daily</text><text x="81.4" y="37.6" font-size="9.5" fill="#000" text-anchor="start" textLength="140" lengthAdjust="spacingAndGlyphs">28985.0 29042.5 28752.5 28832.5</text><defs>
<linearGradient id="gTab" x1="0" y1="0" x2="0" y2="1"><stop offset="0" stop-color="#fb5252"/><stop offset="1" stop-color="#dc2727"/></linearGradient>
<linearGradient id="gLow" x1="0" y1="0" x2="0" y2="1"><stop offset="0" stop-color="#e33232"/><stop offset="0.5" stop-color="#cc1a1a"/><stop offset="1" stop-color="#b20000"/></linearGradient>
<linearGradient id="gBtn" x1="0" y1="0" x2="0" y2="1"><stop offset="0" stop-color="#f3f3f3"/><stop offset="0.45" stop-color="#e6e6e6"/><stop offset="0.55" stop-color="#d6d6d6"/><stop offset="1" stop-color="#d0d0d0"/></linearGradient>
</defs><rect x="3" y="70" width="109" height="39" fill="url(#gLow)"/><rect x="3" y="46" width="52" height="24" fill="url(#gTab)"/><path d="M3.5,109.5 V46.5 H54.5 V70.5 H111.5 V109.5 Z" fill="none" stroke="#b00000" stroke-width="1"/><rect x="7" y="69" width="45" height="1" fill="#7a0000"/><rect x="7" y="70" width="45" height="1" fill="#e85a5a"/><rect x="114" y="70" width="108" height="39" fill="url(#gLow)"/><rect x="170" y="46" width="52" height="24" fill="url(#gTab)"/><path d="M114.5,109.5 V70.5 H170.5 V46.5 H221.5 V109.5 Z" fill="none" stroke="#b00000" stroke-width="1"/><rect x="174" y="69" width="44" height="1" fill="#7a0000"/><rect x="174" y="70" width="44" height="1" fill="#e85a5a"/><rect x="57.5" y="46.5" width="110" height="20.5" fill="#fff" stroke="#a8a8a8" stroke-width="1"/><rect x="58.5" y="47.5" width="19" height="18.5" fill="url(#gBtn)" stroke="#c8c8c8" stroke-width="1"/><rect x="78" y="47" width="1" height="20" fill="#a8a8a8"/><rect x="147.5" y="47.5" width="19" height="18.5" fill="url(#gBtn)" stroke="#c8c8c8" stroke-width="1"/><rect x="146" y="47" width="1" height="20" fill="#a8a8a8"/><polygon points="65.5,55 70.5,55 68,58" fill="#4a5fc8"/><polygon points="154.5,58 159.5,58 157,55" fill="#4a5fc8"/><text x="142.6" y="61" font-size="12" fill="#000" text-anchor="end" >1.00</text><text x="15.5" y="62" font-size="12.5" fill="#fff" text-anchor="start" textLength="25.5" lengthAdjust="spacingAndGlyphs">SELL</text><text x="183.5" y="62" font-size="12.5" fill="#fff" text-anchor="start" textLength="23" lengthAdjust="spacingAndGlyphs">BUY</text><text x="19" y="101" font-size="12" fill="#fff" text-anchor="start" font-weight="bold" textLength="35" lengthAdjust="spacingAndGlyphs">28831</text><circle cx="60.5" cy="99" r="2.1" fill="#fff"/><text x="64" y="101.3" font-size="34.5" fill="#fff" font-family="'Liberation Serif', serif">0</text><text x="129" y="101" font-size="12" fill="#fff" text-anchor="start" font-weight="bold" textLength="35" lengthAdjust="spacingAndGlyphs">28854</text><circle cx="171.5" cy="99" r="2.1" fill="#fff"/><text x="175" y="101.3" font-size="34.5" fill="#fff" font-family="'Liberation Serif', serif">0</text><rect x="0" y="0" width="1734" height="22" fill="#f0f0f0"/><rect x="0" y="21" width="1734" height="1" fill="#e4e4e4"/><rect x="0" y="22" width="1733" height="1" fill="#a6a6a6"/><rect x="0" y="23" width="1733" height="1" fill="#6a6a6a"/><rect x="-5" y="3.5" width="15.5" height="13" rx="1.5" fill="#fff" stroke="#3a78c8" stroke-width="1.3"/><rect x="2" y="5" width="8" height="1" fill="#cfe0f6"/><rect x="0" y="5" width="1" height="1" fill="#ee2020"/><rect x="2" y="7" width="8" height="1" fill="#cfe0f6"/><rect x="0" y="7" width="1" height="1" fill="#222"/><rect x="2" y="9" width="8" height="1" fill="#cfe0f6"/><rect x="0" y="9" width="1" height="1" fill="#222"/><rect x="2" y="11" width="8" height="1" fill="#cfe0f6"/><rect x="0" y="11" width="1" height="1" fill="#ee2020"/><rect x="23.5" y="2.5" width="12" height="13" fill="#fbfbf8" stroke="#b4ab95"/><path d="M26.5,4 V9 M25.5,8 H27.5 M33,4 V8" stroke="#777" stroke-width="0.8" fill="none"/><line x1="35.5" y1="14.5" x2="39.5" y2="18.5" stroke="#b08a10" stroke-width="2.6"/><line x1="35.5" y1="14.5" x2="39.5" y2="18.5" stroke="#e0c040" stroke-width="1.4"/><circle cx="31.4" cy="11" r="5" fill="#e6f3fc" fill-opacity="0.9" stroke="#5a95dc" stroke-width="1.2"/><rect x="30" y="8" width="2" height="5" fill="#9ab4cc"/><rect x="48" y="0" width="1" height="20" fill="#a0a0a0"/><path d="M58.5,2.5 H66 L69.5,6 V15.5 H58.5 Z" fill="#fdfdfd" stroke="#6a6a6a" stroke-width="1"/><rect x="60" y="4" width="3" height="1" fill="#888"/><rect x="60" y="8" width="6" height="1" fill="#888"/><rect x="60" y="10" width="5" height="1" fill="#888"/><rect x="60" y="12" width="4" height="1" fill="#888"/><path d="M66.0,8.3 H69.6 V12.1 H73.39999999999999 V15.700000000000001 H69.6 V19.5 H66.0 V15.700000000000001 H62.199999999999996 V12.1 H66.0 Z" fill="#2bd42b" stroke="#0f8f0f" stroke-width="0.8"/><text x="77" y="13" font-size="12" fill="#111" text-anchor="start" font-family="'Noto Sans CJK SC', sans-serif">新订单</text><path d="M125.5,11.5 L130.2,3.5 L140.5,10 L134,17.5 Z" fill="#e6be2c" stroke="#9a6a10" stroke-width="0.8"/><path d="M125.5,11.5 L125.8,13 L133.5,18.3 L140.6,11.5 L140.5,10 L134,17.5 Z" fill="#c9901e" stroke="#9a6a10" stroke-width="0.6"/><path d="M128,10.5 L131,5.5 L138,10" fill="none" stroke="#f7e17a" stroke-width="1.2"/><rect x="155.5" y="2.5" width="9.5" height="9" fill="#2e8ef0" stroke="#1a5fc0"/><rect x="156" y="3" width="2" height="8" fill="#8cc8ff"/><rect x="160" y="6" width="4" height="1" fill="#d8ecff"/><path d="M154,17.3 Q152.2,13.2 156.3,13 Q157.2,10 161.2,10.6 Q164.5,9.5 166,12.4 Q169.2,12.6 168.6,17.3 Z" fill="#eef2f8" stroke="#5a78a8" stroke-width="0.9"/><circle cx="188.8" cy="9.8" r="7.4" fill="none" stroke="#8ab0dc" stroke-width="1"/><path d="M188.8,2.4 A7.4,7.4 0 0 1 188.8,17.2" fill="none" stroke="#a8cca8" stroke-width="1"/><circle cx="188.8" cy="9.8" r="4.8" fill="none" stroke="#6f98d8" stroke-width="1"/><path d="M188.8,5 A4.8,4.8 0 0 1 188.8,14.6" fill="none" stroke="#8cc08c" stroke-width="1"/><circle cx="188.8" cy="9.8" r="2" fill="#2456c0"/><rect x="189" y="10" width="1" height="8" fill="#22a022"/><path d="M210,11 L223,11 L219.5,17.5 L214,17.5 Z" fill="#f4d84a" stroke="#c4a020" stroke-width="0.6"/><ellipse cx="216" cy="6" rx="8" ry="2.8" fill="#4a9ad8" stroke="#2a70a8" stroke-width="0.6"/><ellipse cx="216" cy="4.3" rx="4" ry="2.6" fill="#7ec0ee"/><circle cx="220.6" cy="13.4" r="4.2" fill="#d82a12"/><rect x="219" y="12" width="3" height="3" fill="#fff"/><text x="229.5" y="13" font-size="12" fill="#111" text-anchor="start" font-family="'Noto Sans CJK SC', sans-serif">自动交易</text><rect x="284" y="0" width="1" height="21" fill="#a0a0a0"/><rect x="288" y="2" width="3" height="1" fill="#a8a8a8"/><rect x="288" y="4" width="3" height="1" fill="#a8a8a8"/><rect x="288" y="6" width="3" height="1" fill="#a8a8a8"/><rect x="288" y="8" width="3" height="1" fill="#a8a8a8"/><rect x="288" y="10" width="3" height="1" fill="#a8a8a8"/><rect x="288" y="12" width="3" height="1" fill="#a8a8a8"/><rect x="288" y="14" width="3" height="1" fill="#a8a8a8"/><rect x="288" y="16" width="3" height="1" fill="#a8a8a8"/><rect x="288" y="18" width="3" height="1" fill="#a8a8a8"/><rect x="288" y="20" width="3" height="1" fill="#a8a8a8"/><rect x="302" y="4" width="1" height="14" fill="#555"/><polygon points="300.5,5.5 304.5,5.5 302.5,3" fill="#555"/><rect x="300" y="15" width="14" height="1" fill="#555"/><polygon points="313,13.5 313,17.5 315.5,15.5" fill="#555"/><path d="M308.4,5.2 V13.4 M306,12.5 H308.4 M308.4,6.5 H311" stroke="#139a13" stroke-width="1.1" fill="none"/><rect x="322" y="0" width="1" height="20" fill="#a0a0a0"/><rect x="323" y="0" width="24" height="20" fill="#f6f6f6"/><rect x="330" y="4" width="1" height="14" fill="#555"/><polygon points="328.5,5.5 332.5,5.5 330.5,3" fill="#555"/><rect x="328" y="15" width="14" height="1" fill="#555"/><polygon points="341,13.5 341,17.5 343.5,15.5" fill="#555"/><rect x="336" y="2" width="1" height="12" fill="#0f8a0f"/><defs><linearGradient id="gCdl" x1="0" y1="0" x2="1" y2="0"><stop offset="0" stop-color="#3ad63a"/><stop offset="0.5" stop-color="#9af59a"/><stop offset="1" stop-color="#2cc82c"/></linearGradient></defs><rect x="334.3" y="4.3" width="4.4" height="7.4" fill="url(#gCdl)" stroke="#0f8a0f" stroke-width="0.9"/><rect x="358" y="4" width="1" height="14" fill="#555"/><polygon points="356.5,5.5 360.5,5.5 358.5,3" fill="#555"/><rect x="356" y="15" width="14" height="1" fill="#555"/><polygon points="369,13.5 369,17.5 371.5,15.5" fill="#555"/><path d="M357.3,12.6 Q360,8.5 363,7.2 Q365,7 368.4,11" fill="none" stroke="#1a9a1a" stroke-width="1.2"/><rect x="379" y="0" width="1" height="20" fill="#a0a0a0"/><line x1="397.6" y1="11.899999999999999" x2="402.6" y2="16.9" stroke="#a07810" stroke-width="4.2"/><line x1="397.6" y1="11.899999999999999" x2="402.6" y2="16.9" stroke="#ecd048" stroke-width="2.6"/><circle cx="394" cy="7.8" r="5.6" fill="#e2f2fc" stroke="#3a7fd0" stroke-width="1.4"/><rect x="390.5" y="6.8" width="7" height="2" fill="#4a88b0"/><rect x="393" y="4.3" width="2" height="7" fill="#4a88b0"/><line x1="425.6" y1="11.899999999999999" x2="430.6" y2="16.9" stroke="#a07810" stroke-width="4.2"/><line x1="425.6" y1="11.899999999999999" x2="430.6" y2="16.9" stroke="#ecd048" stroke-width="2.6"/><circle cx="422" cy="7.8" r="5.6" fill="#e2f2fc" stroke="#3a7fd0" stroke-width="1.4"/><rect x="418.5" y="6.8" width="7" height="2" fill="#4a88b0"/><rect x="444" y="2" width="8" height="8" fill="#2e9a1e"/><rect x="445" y="6" width="6" height="3" fill="#ffffff"/><rect x="445" y="9" width="1" height="1" fill="#ffffff"/><rect x="450" y="9" width="1" height="1" fill="#ffffff"/><rect x="445" y="3" width="1" height="1" fill="#dfe8ff"/><rect x="452" y="2" width="8" height="8" fill="#1e4ed0"/><rect x="453" y="6" width="6" height="3" fill="#ffffff"/><rect x="453" y="9" width="1" height="1" fill="#ffffff"/><rect x="458" y="9" width="1" height="1" fill="#ffffff"/><rect x="453" y="3" width="1" height="1" fill="#dfe8ff"/><rect x="444" y="10" width="8" height="8" fill="#1e4ed0"/><rect x="445" y="14" width="6" height="3" fill="#ffffff"/><rect x="445" y="17" width="1" height="1" fill="#ffffff"/><rect x="450" y="17" width="1" height="1" fill="#ffffff"/><rect x="445" y="11" width="1" height="1" fill="#dfe8ff"/><rect x="452" y="10" width="8" height="8" fill="#2e9a1e"/><rect x="453" y="14" width="6" height="3" fill="#ffffff"/><rect x="453" y="17" width="1" height="1" fill="#ffffff"/><rect x="458" y="17" width="1" height="1" fill="#ffffff"/><rect x="453" y="11" width="1" height="1" fill="#dfe8ff"/><rect x="469" y="0" width="1" height="20" fill="#a0a0a0"/><rect x="474" y="0" width="1" height="20" fill="#a0a0a0"/><rect x="475" y="0" width="24" height="20" fill="#f6f6f6"/><rect x="482" y="4" width="1" height="14" fill="#555"/><polygon points="480.5,5.5 484.5,5.5 482.5,3" fill="#555"/><rect x="480" y="15" width="14" height="1" fill="#555"/><polygon points="493,13.5 493,17.5 495.5,15.5" fill="#555"/><polygon points="487.5,5 487.5,11.5 491.5,8.2" fill="#3ad63a" stroke="#0f8a0f" stroke-width="0.8"/><rect x="502" y="0" width="1" height="20" fill="#a0a0a0"/><rect x="503" y="0" width="24" height="20" fill="#f6f6f6"/><rect x="510" y="4" width="1" height="14" fill="#555"/><polygon points="508.5,5.5 512.5,5.5 510.5,3" fill="#555"/><rect x="508" y="15" width="14" height="1" fill="#555"/><polygon points="521,13.5 521,17.5 523.5,15.5" fill="#555"/><rect x="516" y="4" width="1" height="10" fill="#1f55c8"/><polygon points="517.5,9 520.5,6.5 520.5,11.5" fill="#e05a10"/><rect x="520" y="8" width="3" height="2" fill="#e05a10"/><rect x="531" y="0" width="1" height="20" fill="#a0a0a0"/><path d="M541.5,2.5 H549 L552.5,6 V15.5 H541.5 Z" fill="#fdfdfd" stroke="#6a6a6a" stroke-width="1"/><path d="M547,4.5 Q545,4.5 545,6.5 V12 M543.8,8 H546.5" stroke="#555" stroke-width="0.8" fill="none"/><path d="M549.2,8.4 H552.8 V12.2 H556.6 V15.8 H552.8 V19.6 H549.2 V15.8 H545.4 V12.2 H549.2 Z" fill="#2bd42b" stroke="#0f8f0f" stroke-width="0.8"/><polygon points="562.7,9 568.2,9 565.45,12" fill="#000"/><defs><radialGradient id="gClk" cx="0.4" cy="0.35" r="0.7"><stop offset="0" stop-color="#7ab8ff"/><stop offset="1" stop-color="#0a56c0"/></radialGradient></defs><circle cx="586.9" cy="10" r="8" fill="url(#gClk)"/><circle cx="586.9" cy="10" r="5.6" fill="#f6f9ff"/><path d="M586.4,6 V10.3 H589.8" stroke="#222" stroke-width="1.1" fill="none"/><polygon points="601.8,9 607.3,9 604.55,12" fill="#000"/><rect x="618.5" y="3.5" width="15.5" height="13" fill="#fff" stroke="#2f6fc8"/><rect x="619" y="4" width="15" height="2" fill="#a8c8f0"/><rect x="619" y="10" width="15" height="1" fill="#2f6fc8"/><path d="M620,8.6 L622.5,8 L625,7.3 L627.5,8 L630,7 L632.5,6.6" stroke="#b02818" fill="none" stroke-width="1.1"/><path d="M620,14 L622.5,13.2 L625,14 L628,12 L630.5,13.8 L632.5,14" stroke="#18a018" fill="none" stroke-width="1.1"/><polygon points="640.9,9 646.4,9 643.65,12" fill="#000"/><rect x="652" y="0" width="1" height="21" fill="#a0a0a0"/><rect x="656" y="2" width="3" height="1" fill="#a8a8a8"/><rect x="656" y="4" width="3" height="1" fill="#a8a8a8"/><rect x="656" y="6" width="3" height="1" fill="#a8a8a8"/><rect x="656" y="8" width="3" height="1" fill="#a8a8a8"/><rect x="656" y="10" width="3" height="1" fill="#a8a8a8"/><rect x="656" y="12" width="3" height="1" fill="#a8a8a8"/><rect x="656" y="14" width="3" height="1" fill="#a8a8a8"/><rect x="656" y="16" width="3" height="1" fill="#a8a8a8"/><rect x="656" y="18" width="3" height="1" fill="#a8a8a8"/><rect x="656" y="20" width="3" height="1" fill="#a8a8a8"/><rect x="662" y="0" width="1" height="20" fill="#a0a0a0"/><rect x="663" y="0" width="24" height="20" fill="#f6f6f6"/><polygon points="670,3 670,15.5 672.8,12.8 675,17.5 677.2,16.5 675,11.8 678.5,11.5" fill="#505050"/><rect x="702" y="3" width="1" height="15" fill="#505050"/><rect x="695" y="10" width="15" height="1" fill="#505050"/><rect x="719" y="0" width="1" height="20" fill="#a0a0a0"/><rect x="736" y="4" width="1" height="13" fill="#505050"/><rect x="759" y="10" width="12" height="1" fill="#505050"/><line x1="787" y1="17" x2="799" y2="5" stroke="#505050" stroke-width="1.1"/><path d="M813,14 L826,3 M815,17 L827,7 M817,6 L815,14 M821,4 L819,12 M824,5 L822,13" stroke="#505050" stroke-width="1" fill="none"/><text x="823.5" y="19" font-size="6.5" fill="#404040" text-anchor="start" font-weight="bold">E</text><rect x="842" y="3" width="1" height="1" fill="#505050"/><rect x="844" y="3" width="1" height="1" fill="#505050"/><rect x="846" y="3" width="1" height="1" fill="#505050"/><rect x="848" y="3" width="1" height="1" fill="#505050"/><rect x="850" y="3" width="1" height="1" fill="#505050"/><rect x="852" y="3" width="1" height="1" fill="#505050"/><rect x="854" y="3" width="1" height="1" fill="#505050"/><rect x="842" y="7" width="1" height="1" fill="#505050"/><rect x="844" y="7" width="1" height="1" fill="#505050"/><rect x="846" y="7" width="1" height="1" fill="#505050"/><rect x="848" y="7" width="1" height="1" fill="#505050"/><rect x="850" y="7" width="1" height="1" fill="#505050"/><rect x="852" y="7" width="1" height="1" fill="#505050"/><rect x="854" y="7" width="1" height="1" fill="#505050"/><rect x="842" y="10" width="1" height="1" fill="#505050"/><rect x="844" y="10" width="1" height="1" fill="#505050"/><rect x="846" y="10" width="1" height="1" fill="#505050"/><rect x="848" y="10" width="1" height="1" fill="#505050"/><rect x="850" y="10" width="1" height="1" fill="#505050"/><rect x="852" y="10" width="1" height="1" fill="#505050"/><rect x="854" y="10" width="1" height="1" fill="#505050"/><rect x="842" y="14" width="1" height="1" fill="#505050"/><rect x="844" y="14" width="1" height="1" fill="#505050"/><rect x="846" y="14" width="1" height="1" fill="#505050"/><rect x="848" y="14" width="1" height="1" fill="#505050"/><rect x="850" y="14" width="1" height="1" fill="#505050"/><text x="851.5" y="19" font-size="6.5" fill="#404040" text-anchor="start" font-weight="bold">F</text><text x="872.6" y="15" font-size="12" fill="#5a5a5a" text-anchor="start" font-weight="bold" textLength="7.8" lengthAdjust="spacingAndGlyphs">A</text><rect x="899" y="4" width="1" height="1" fill="#505050"/><rect x="899" y="16" width="1" height="1" fill="#505050"/><rect x="901" y="4" width="1" height="1" fill="#505050"/><rect x="901" y="16" width="1" height="1" fill="#505050"/><rect x="903" y="4" width="1" height="1" fill="#505050"/><rect x="903" y="16" width="1" height="1" fill="#505050"/><rect x="905" y="4" width="1" height="1" fill="#505050"/><rect x="905" y="16" width="1" height="1" fill="#505050"/><rect x="907" y="4" width="1" height="1" fill="#505050"/><rect x="907" y="16" width="1" height="1" fill="#505050"/><rect x="909" y="4" width="1" height="1" fill="#505050"/><rect x="909" y="16" width="1" height="1" fill="#505050"/><rect x="911" y="4" width="1" height="1" fill="#505050"/><rect x="911" y="16" width="1" height="1" fill="#505050"/><rect x="899" y="4" width="1" height="1" fill="#505050"/><rect x="911" y="4" width="1" height="1" fill="#505050"/><rect x="899" y="6" width="1" height="1" fill="#505050"/><rect x="911" y="6" width="1" height="1" fill="#505050"/><rect x="899" y="8" width="1" height="1" fill="#505050"/><rect x="911" y="8" width="1" height="1" fill="#505050"/><rect x="899" y="10" width="1" height="1" fill="#505050"/><rect x="911" y="10" width="1" height="1" fill="#505050"/><rect x="899" y="12" width="1" height="1" fill="#505050"/><rect x="911" y="12" width="1" height="1" fill="#505050"/><rect x="899" y="14" width="1" height="1" fill="#505050"/><rect x="911" y="14" width="1" height="1" fill="#505050"/><rect x="899" y="16" width="1" height="1" fill="#505050"/><rect x="911" y="16" width="1" height="1" fill="#505050"/><text x="901.2" y="15" font-size="11.5" fill="#505050" text-anchor="start" font-weight="bold">T</text><polygon points="926,7 929,4 932,7 929,10" fill="#505050"/><polygon points="934,13 937,10 940,13 937,16" fill="#505050"/><path d="M929,10 L932,13 L936,8" stroke="#505050" stroke-width="1.2" fill="none"/><polygon points="946.6,9 952,9 949.3,12" fill="#000"/><rect x="958" y="0" width="1" height="21" fill="#a0a0a0"/><rect x="962" y="2" width="3" height="1" fill="#a8a8a8"/><rect x="962" y="4" width="3" height="1" fill="#a8a8a8"/><rect x="962" y="6" width="3" height="1" fill="#a8a8a8"/><rect x="962" y="8" width="3" height="1" fill="#a8a8a8"/><rect x="962" y="10" width="3" height="1" fill="#a8a8a8"/><rect x="962" y="12" width="3" height="1" fill="#a8a8a8"/><rect x="962" y="14" width="3" height="1" fill="#a8a8a8"/><rect x="962" y="16" width="3" height="1" fill="#a8a8a8"/><rect x="962" y="18" width="3" height="1" fill="#a8a8a8"/><rect x="962" y="20" width="3" height="1" fill="#a8a8a8"/><rect x="1137" y="0" width="24" height="21" fill="#f6f6f6"/><text x="973.5" y="14.3" font-size="10" fill="#505050" text-anchor="start" >M1</text><text x="1001.3" y="14.3" font-size="10" fill="#505050" text-anchor="start" >M5</text><text x="1027.3" y="14.3" font-size="10" fill="#505050" text-anchor="start" >M15</text><text x="1055.3" y="14.3" font-size="10" fill="#505050" text-anchor="start" >M30</text><text x="1086.1" y="14.3" font-size="10" fill="#505050" text-anchor="start" >H1</text><text x="1113.4" y="14.3" font-size="10" fill="#505050" text-anchor="start" >H4</text><text x="1142.2" y="14.3" font-size="10" fill="#505050" text-anchor="start" >D1</text><text x="1169.4" y="14.3" font-size="10" fill="#505050" text-anchor="start" >W1</text><text x="1196.7" y="14.3" font-size="10" fill="#505050" text-anchor="start" >MN</text><rect x="1136" y="0" width="1" height="21" fill="#a0a0a0"/><rect x="1219" y="0" width="1" height="21" fill="#a0a0a0"/><circle cx="1689.5" cy="7.3" r="3.9" fill="#f4f8ff" stroke="#2a5fd0" stroke-width="1.3"/><line x1="1686.6" y1="10.3" x2="1682.2" y2="14.8" stroke="#2a5fd0" stroke-width="2.3"/><path d="M1706,17.5 L1709,15 Q1704.5,13 1706,9.5 Q1708,6.5 1713,7 L1716,14 Z" fill="#e8e8e8" stroke="#b8b8b8" stroke-width="0.8"/><defs><linearGradient id="gBadge" x1="0" y1="0" x2="0" y2="1"><stop offset="0" stop-color="#ec5a3a"/><stop offset="1" stop-color="#c81808"/></linearGradient></defs><circle cx="1721" cy="7.2" r="7.6" fill="url(#gBadge)"/><text x="1720.5" y="12" font-size="11" fill="#fff" text-anchor="middle" font-family="'Liberation Serif', serif">1</text>
</svg>
</body></html>
